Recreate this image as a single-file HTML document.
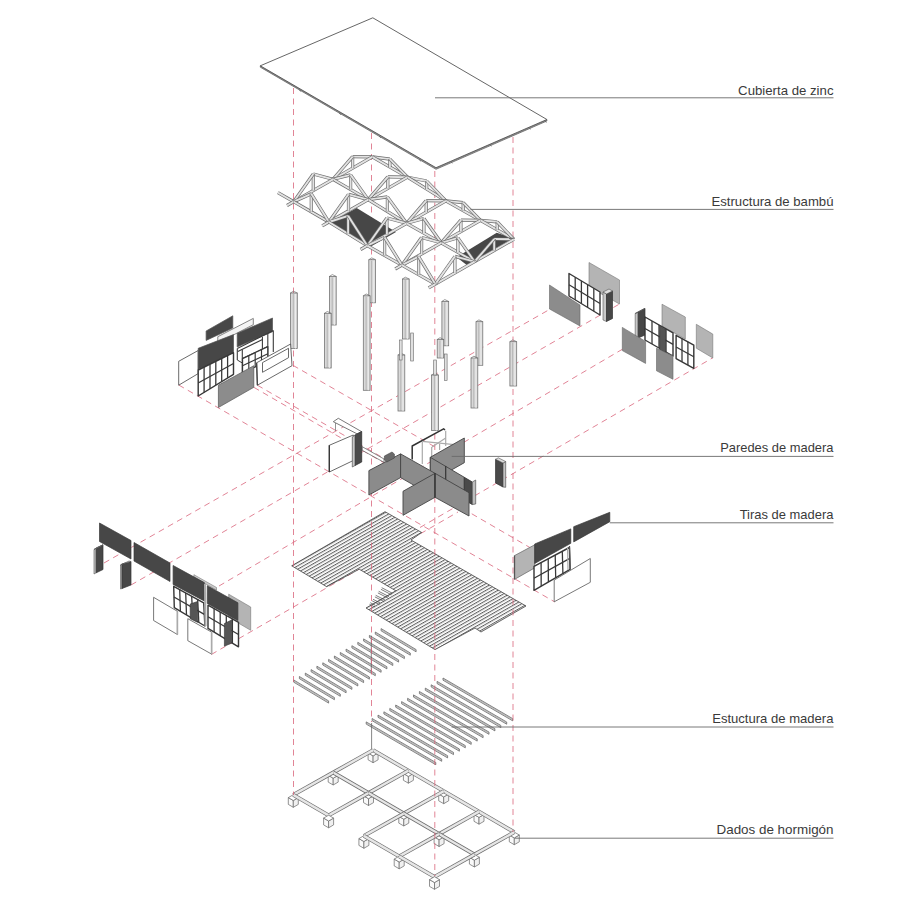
<!DOCTYPE html>
<html><head><meta charset="utf-8"><style>
html,body{margin:0;padding:0;background:#fff;width:900px;height:900px;overflow:hidden}
svg{display:block}
</style></head><body>
<svg width="900" height="900" viewBox="0 0 900 900">
<rect width="900" height="900" fill="#fff"/>
<line x1="104" y1="563" x2="589" y2="287" stroke="#d9657b" stroke-width="0.8" stroke-dasharray="6,4.5"/>
<line x1="131" y1="585" x2="619.5" y2="304" stroke="#d9657b" stroke-width="0.8" stroke-dasharray="6,4.5"/>
<line x1="219" y1="586" x2="662" y2="326" stroke="#d9657b" stroke-width="0.8" stroke-dasharray="6,4.5"/>
<line x1="211.3" y1="654.5" x2="458" y2="512" stroke="#d9657b" stroke-width="0.8" stroke-dasharray="6,4.5"/>
<line x1="420" y1="527.5" x2="712.8" y2="357.8" stroke="#d9657b" stroke-width="0.8" stroke-dasharray="6,4.5"/>
<line x1="292.9" y1="365.3" x2="436" y2="447.5" stroke="#d9657b" stroke-width="0.8" stroke-dasharray="6,4.5"/>
<line x1="257.4" y1="385.2" x2="469" y2="507.5" stroke="#d9657b" stroke-width="0.8" stroke-dasharray="6,4.5"/>
<line x1="253.8" y1="387.3" x2="535" y2="550.5" stroke="#d9657b" stroke-width="0.8" stroke-dasharray="6,4.5"/>
<line x1="178.7" y1="385" x2="554.5" y2="601.8" stroke="#d9657b" stroke-width="0.8" stroke-dasharray="6,4.5"/>
<polygon points="291.7,565.8 385,511.7 421.7,532.5 411,540 526,606 481,632 475,628 435,649.6 366,608 395.8,590.8 359.2,569.2 326.7,586.7" fill="#fff" stroke="none" stroke-width="0" stroke-linejoin="round" />
<clipPath id="fc"><polygon points="291.7,565.8 385,511.7 421.7,532.5 411,540 526,606 481,632 475,628 435,649.6 366,608 395.8,590.8 359.2,569.2 326.7,586.7"/></clipPath>
<g clip-path="url(#fc)" stroke="#4a4a4a" stroke-width="0.9"><line x1="268.5" y1="572.3" x2="459.3" y2="463.5"/><line x1="269.4" y1="572.8" x2="460.2" y2="464" stroke="#b0b0b0" stroke-width="0.6"/><line x1="271.4" y1="574" x2="462.3" y2="465.2"/><line x1="272.3" y1="574.5" x2="463.2" y2="465.7" stroke="#b0b0b0" stroke-width="0.6"/><line x1="274.3" y1="575.7" x2="465.2" y2="466.9"/><line x1="275.2" y1="576.2" x2="466.1" y2="467.4" stroke="#b0b0b0" stroke-width="0.6"/><line x1="277.3" y1="577.4" x2="468.2" y2="468.6"/><line x1="278.2" y1="577.9" x2="469.1" y2="469.1" stroke="#b0b0b0" stroke-width="0.6"/><line x1="280.2" y1="579.1" x2="471.1" y2="470.3"/><line x1="281.1" y1="579.6" x2="472" y2="470.8" stroke="#b0b0b0" stroke-width="0.6"/><line x1="283.2" y1="580.8" x2="474.1" y2="472"/><line x1="284.1" y1="581.3" x2="475" y2="472.5" stroke="#b0b0b0" stroke-width="0.6"/><line x1="286.1" y1="582.5" x2="477" y2="473.7"/><line x1="287" y1="583" x2="477.9" y2="474.2" stroke="#b0b0b0" stroke-width="0.6"/><line x1="289.1" y1="584.2" x2="479.9" y2="475.4"/><line x1="290" y1="584.7" x2="480.8" y2="475.9" stroke="#b0b0b0" stroke-width="0.6"/><line x1="292" y1="585.9" x2="482.9" y2="477.1"/><line x1="292.9" y1="586.4" x2="483.8" y2="477.6" stroke="#b0b0b0" stroke-width="0.6"/><line x1="295" y1="587.6" x2="485.8" y2="478.8"/><line x1="295.9" y1="588.1" x2="486.7" y2="479.3" stroke="#b0b0b0" stroke-width="0.6"/><line x1="297.9" y1="589.3" x2="488.8" y2="480.5"/><line x1="298.8" y1="589.8" x2="489.7" y2="481" stroke="#b0b0b0" stroke-width="0.6"/><line x1="300.9" y1="591" x2="491.7" y2="482.2"/><line x1="301.8" y1="591.5" x2="492.6" y2="482.7" stroke="#b0b0b0" stroke-width="0.6"/><line x1="303.8" y1="592.7" x2="494.7" y2="483.9"/><line x1="304.7" y1="593.2" x2="495.6" y2="484.4" stroke="#b0b0b0" stroke-width="0.6"/><line x1="306.8" y1="594.4" x2="497.6" y2="485.6"/><line x1="307.7" y1="594.9" x2="498.5" y2="486.1" stroke="#b0b0b0" stroke-width="0.6"/><line x1="309.7" y1="596.1" x2="500.6" y2="487.3"/><line x1="310.6" y1="596.6" x2="501.5" y2="487.8" stroke="#b0b0b0" stroke-width="0.6"/><line x1="312.7" y1="597.8" x2="503.5" y2="489"/><line x1="313.6" y1="598.3" x2="504.4" y2="489.5" stroke="#b0b0b0" stroke-width="0.6"/><line x1="315.6" y1="599.5" x2="506.5" y2="490.7"/><line x1="316.5" y1="600" x2="507.4" y2="491.2" stroke="#b0b0b0" stroke-width="0.6"/><line x1="318.6" y1="601.2" x2="509.4" y2="492.4"/><line x1="319.5" y1="601.7" x2="510.3" y2="492.9" stroke="#b0b0b0" stroke-width="0.6"/><line x1="321.5" y1="602.9" x2="512.4" y2="494.1"/><line x1="322.4" y1="603.4" x2="513.3" y2="494.6" stroke="#b0b0b0" stroke-width="0.6"/><line x1="324.5" y1="604.6" x2="515.3" y2="495.8"/><line x1="325.4" y1="605.1" x2="516.2" y2="496.3" stroke="#b0b0b0" stroke-width="0.6"/><line x1="327.4" y1="606.3" x2="518.3" y2="497.5"/><line x1="328.3" y1="606.8" x2="519.2" y2="498" stroke="#b0b0b0" stroke-width="0.6"/><line x1="330.4" y1="608" x2="521.2" y2="499.2"/><line x1="331.3" y1="608.5" x2="522.1" y2="499.7" stroke="#b0b0b0" stroke-width="0.6"/><line x1="333.3" y1="609.7" x2="524.2" y2="500.9"/><line x1="334.2" y1="610.2" x2="525.1" y2="501.4" stroke="#b0b0b0" stroke-width="0.6"/><line x1="336.3" y1="611.4" x2="527.1" y2="502.6"/><line x1="337.2" y1="611.9" x2="528" y2="503.1" stroke="#b0b0b0" stroke-width="0.6"/><line x1="339.2" y1="613.1" x2="530.1" y2="504.3"/><line x1="340.1" y1="613.6" x2="531" y2="504.8" stroke="#b0b0b0" stroke-width="0.6"/><line x1="342.1" y1="614.8" x2="533" y2="506"/><line x1="343" y1="615.3" x2="533.9" y2="506.5" stroke="#b0b0b0" stroke-width="0.6"/><line x1="345.1" y1="616.5" x2="536" y2="507.7"/><line x1="346" y1="617" x2="536.9" y2="508.2" stroke="#b0b0b0" stroke-width="0.6"/><line x1="348" y1="618.2" x2="538.9" y2="509.4"/><line x1="348.9" y1="618.7" x2="539.8" y2="509.9" stroke="#b0b0b0" stroke-width="0.6"/><line x1="351" y1="619.9" x2="541.9" y2="511.1"/><line x1="351.9" y1="620.4" x2="542.8" y2="511.6" stroke="#b0b0b0" stroke-width="0.6"/><line x1="353.9" y1="621.6" x2="544.8" y2="512.8"/><line x1="354.8" y1="622.1" x2="545.7" y2="513.3" stroke="#b0b0b0" stroke-width="0.6"/><line x1="356.9" y1="623.3" x2="547.7" y2="514.5"/><line x1="357.8" y1="623.8" x2="548.6" y2="515" stroke="#b0b0b0" stroke-width="0.6"/><line x1="359.8" y1="625" x2="550.7" y2="516.2"/><line x1="360.7" y1="625.5" x2="551.6" y2="516.7" stroke="#b0b0b0" stroke-width="0.6"/><line x1="362.8" y1="626.7" x2="553.6" y2="517.9"/><line x1="363.7" y1="627.2" x2="554.5" y2="518.4" stroke="#b0b0b0" stroke-width="0.6"/><line x1="365.7" y1="628.4" x2="556.6" y2="519.6"/><line x1="366.6" y1="628.9" x2="557.5" y2="520.1" stroke="#b0b0b0" stroke-width="0.6"/><line x1="368.7" y1="630.1" x2="559.5" y2="521.3"/><line x1="369.6" y1="630.6" x2="560.4" y2="521.8" stroke="#b0b0b0" stroke-width="0.6"/><line x1="371.6" y1="631.8" x2="562.5" y2="523"/><line x1="372.5" y1="632.3" x2="563.4" y2="523.5" stroke="#b0b0b0" stroke-width="0.6"/><line x1="374.6" y1="633.5" x2="565.4" y2="524.7"/><line x1="375.5" y1="634" x2="566.3" y2="525.2" stroke="#b0b0b0" stroke-width="0.6"/><line x1="377.5" y1="635.2" x2="568.4" y2="526.4"/><line x1="378.4" y1="635.7" x2="569.3" y2="526.9" stroke="#b0b0b0" stroke-width="0.6"/><line x1="380.5" y1="636.9" x2="571.3" y2="528.1"/><line x1="381.4" y1="637.4" x2="572.2" y2="528.6" stroke="#b0b0b0" stroke-width="0.6"/><line x1="383.4" y1="638.6" x2="574.3" y2="529.8"/><line x1="384.3" y1="639.1" x2="575.2" y2="530.3" stroke="#b0b0b0" stroke-width="0.6"/><line x1="386.4" y1="640.3" x2="577.2" y2="531.5"/><line x1="387.3" y1="640.8" x2="578.1" y2="532" stroke="#b0b0b0" stroke-width="0.6"/><line x1="389.3" y1="642" x2="580.2" y2="533.2"/><line x1="390.2" y1="642.5" x2="581.1" y2="533.7" stroke="#b0b0b0" stroke-width="0.6"/><line x1="392.3" y1="643.7" x2="583.1" y2="534.9"/><line x1="393.2" y1="644.2" x2="584" y2="535.4" stroke="#b0b0b0" stroke-width="0.6"/><line x1="395.2" y1="645.4" x2="586.1" y2="536.6"/><line x1="396.1" y1="645.9" x2="587" y2="537.1" stroke="#b0b0b0" stroke-width="0.6"/><line x1="398.2" y1="647.1" x2="589" y2="538.3"/><line x1="399.1" y1="647.6" x2="589.9" y2="538.8" stroke="#b0b0b0" stroke-width="0.6"/><line x1="401.1" y1="648.8" x2="592" y2="540"/><line x1="402" y1="649.3" x2="592.9" y2="540.5" stroke="#b0b0b0" stroke-width="0.6"/><line x1="404.1" y1="650.5" x2="594.9" y2="541.7"/><line x1="405" y1="651" x2="595.8" y2="542.2" stroke="#b0b0b0" stroke-width="0.6"/><line x1="407" y1="652.2" x2="597.9" y2="543.4"/><line x1="407.9" y1="652.7" x2="598.8" y2="543.9" stroke="#b0b0b0" stroke-width="0.6"/><line x1="409.9" y1="653.9" x2="600.8" y2="545.1"/><line x1="410.8" y1="654.4" x2="601.7" y2="545.6" stroke="#b0b0b0" stroke-width="0.6"/><line x1="412.9" y1="655.6" x2="603.8" y2="546.8"/><line x1="413.8" y1="656.1" x2="604.7" y2="547.3" stroke="#b0b0b0" stroke-width="0.6"/><line x1="415.8" y1="657.3" x2="606.7" y2="548.5"/><line x1="416.7" y1="657.8" x2="607.6" y2="549" stroke="#b0b0b0" stroke-width="0.6"/><line x1="418.8" y1="659" x2="609.7" y2="550.2"/><line x1="419.7" y1="659.5" x2="610.6" y2="550.7" stroke="#b0b0b0" stroke-width="0.6"/><line x1="421.7" y1="660.7" x2="612.6" y2="551.9"/><line x1="422.6" y1="661.2" x2="613.5" y2="552.4" stroke="#b0b0b0" stroke-width="0.6"/><line x1="424.7" y1="662.4" x2="615.5" y2="553.6"/><line x1="425.6" y1="662.9" x2="616.4" y2="554.1" stroke="#b0b0b0" stroke-width="0.6"/><line x1="427.6" y1="664.1" x2="618.5" y2="555.3"/><line x1="428.5" y1="664.6" x2="619.4" y2="555.8" stroke="#b0b0b0" stroke-width="0.6"/><line x1="430.6" y1="665.8" x2="621.4" y2="557"/><line x1="431.5" y1="666.3" x2="622.3" y2="557.5" stroke="#b0b0b0" stroke-width="0.6"/><line x1="433.5" y1="667.5" x2="624.4" y2="558.7"/><line x1="434.4" y1="668" x2="625.3" y2="559.2" stroke="#b0b0b0" stroke-width="0.6"/><line x1="436.5" y1="669.2" x2="627.3" y2="560.4"/><line x1="437.4" y1="669.7" x2="628.2" y2="560.9" stroke="#b0b0b0" stroke-width="0.6"/><line x1="439.4" y1="670.9" x2="630.3" y2="562.1"/><line x1="440.3" y1="671.4" x2="631.2" y2="562.6" stroke="#b0b0b0" stroke-width="0.6"/><line x1="442.4" y1="672.6" x2="633.2" y2="563.8"/><line x1="443.3" y1="673.1" x2="634.1" y2="564.3" stroke="#b0b0b0" stroke-width="0.6"/><line x1="445.3" y1="674.3" x2="636.2" y2="565.5"/><line x1="446.2" y1="674.8" x2="637.1" y2="566" stroke="#b0b0b0" stroke-width="0.6"/><line x1="448.3" y1="676" x2="639.1" y2="567.2"/><line x1="449.2" y1="676.5" x2="640" y2="567.7" stroke="#b0b0b0" stroke-width="0.6"/><line x1="451.2" y1="677.7" x2="642.1" y2="568.9"/><line x1="452.1" y1="678.2" x2="643" y2="569.4" stroke="#b0b0b0" stroke-width="0.6"/><line x1="454.2" y1="679.4" x2="645" y2="570.6"/><line x1="455.1" y1="679.9" x2="645.9" y2="571.1" stroke="#b0b0b0" stroke-width="0.6"/><line x1="457.1" y1="681.1" x2="648" y2="572.3"/><line x1="458" y1="681.6" x2="648.9" y2="572.8" stroke="#b0b0b0" stroke-width="0.6"/><line x1="460.1" y1="682.8" x2="650.9" y2="574"/><line x1="461" y1="683.3" x2="651.8" y2="574.5" stroke="#b0b0b0" stroke-width="0.6"/><line x1="463" y1="684.5" x2="653.9" y2="575.7"/><line x1="463.9" y1="685" x2="654.8" y2="576.2" stroke="#b0b0b0" stroke-width="0.6"/><line x1="466" y1="686.2" x2="656.8" y2="577.4"/><line x1="466.9" y1="686.7" x2="657.7" y2="577.9" stroke="#b0b0b0" stroke-width="0.6"/><line x1="468.9" y1="687.9" x2="659.8" y2="579.1"/><line x1="469.8" y1="688.4" x2="660.7" y2="579.6" stroke="#b0b0b0" stroke-width="0.6"/><line x1="471.9" y1="689.6" x2="662.7" y2="580.8"/><line x1="472.8" y1="690.1" x2="663.6" y2="581.3" stroke="#b0b0b0" stroke-width="0.6"/><line x1="474.8" y1="691.3" x2="665.7" y2="582.5"/><line x1="475.7" y1="691.8" x2="666.6" y2="583" stroke="#b0b0b0" stroke-width="0.6"/><line x1="477.7" y1="693" x2="668.6" y2="584.2"/><line x1="478.6" y1="693.5" x2="669.5" y2="584.7" stroke="#b0b0b0" stroke-width="0.6"/><line x1="480.7" y1="694.7" x2="671.6" y2="585.9"/><line x1="481.6" y1="695.2" x2="672.5" y2="586.4" stroke="#b0b0b0" stroke-width="0.6"/><line x1="483.6" y1="696.4" x2="674.5" y2="587.6"/><line x1="484.5" y1="696.9" x2="675.4" y2="588.1" stroke="#b0b0b0" stroke-width="0.6"/><line x1="486.6" y1="698.1" x2="677.5" y2="589.3"/><line x1="487.5" y1="698.6" x2="678.4" y2="589.8" stroke="#b0b0b0" stroke-width="0.6"/><line x1="489.5" y1="699.8" x2="680.4" y2="591"/><line x1="490.4" y1="700.3" x2="681.3" y2="591.5" stroke="#b0b0b0" stroke-width="0.6"/><line x1="492.5" y1="701.5" x2="683.3" y2="592.7"/><line x1="493.4" y1="702" x2="684.2" y2="593.2" stroke="#b0b0b0" stroke-width="0.6"/><line x1="495.4" y1="703.2" x2="686.3" y2="594.4"/><line x1="496.3" y1="703.7" x2="687.2" y2="594.9" stroke="#b0b0b0" stroke-width="0.6"/><line x1="498.4" y1="704.9" x2="689.2" y2="596.1"/><line x1="499.3" y1="705.4" x2="690.1" y2="596.6" stroke="#b0b0b0" stroke-width="0.6"/><line x1="501.3" y1="706.6" x2="692.2" y2="597.8"/><line x1="502.2" y1="707.1" x2="693.1" y2="598.3" stroke="#b0b0b0" stroke-width="0.6"/><line x1="504.3" y1="708.3" x2="695.1" y2="599.5"/><line x1="505.2" y1="708.8" x2="696" y2="600" stroke="#b0b0b0" stroke-width="0.6"/><line x1="507.2" y1="710" x2="698.1" y2="601.2"/><line x1="508.1" y1="710.5" x2="699" y2="601.7" stroke="#b0b0b0" stroke-width="0.6"/><line x1="510.2" y1="711.7" x2="701" y2="602.9"/><line x1="511.1" y1="712.2" x2="701.9" y2="603.4" stroke="#b0b0b0" stroke-width="0.6"/><line x1="513.1" y1="713.4" x2="704" y2="604.6"/><line x1="514" y1="713.9" x2="704.9" y2="605.1" stroke="#b0b0b0" stroke-width="0.6"/><line x1="516.1" y1="715.1" x2="706.9" y2="606.3"/><line x1="517" y1="715.6" x2="707.8" y2="606.8" stroke="#b0b0b0" stroke-width="0.6"/><line x1="519" y1="716.8" x2="709.9" y2="608"/><line x1="519.9" y1="717.3" x2="710.8" y2="608.5" stroke="#b0b0b0" stroke-width="0.6"/><line x1="522" y1="718.5" x2="712.8" y2="609.7"/><line x1="522.9" y1="719" x2="713.7" y2="610.2" stroke="#b0b0b0" stroke-width="0.6"/><line x1="524.9" y1="720.2" x2="715.8" y2="611.4"/><line x1="525.8" y1="720.7" x2="716.7" y2="611.9" stroke="#b0b0b0" stroke-width="0.6"/><line x1="527.9" y1="721.9" x2="718.7" y2="613.1"/><line x1="528.8" y1="722.4" x2="719.6" y2="613.6" stroke="#b0b0b0" stroke-width="0.6"/><line x1="530.8" y1="723.6" x2="721.7" y2="614.8"/><line x1="531.7" y1="724.1" x2="722.6" y2="615.3" stroke="#b0b0b0" stroke-width="0.6"/><line x1="533.8" y1="725.3" x2="724.6" y2="616.5"/><line x1="534.7" y1="725.8" x2="725.5" y2="617" stroke="#b0b0b0" stroke-width="0.6"/><line x1="536.7" y1="727" x2="727.6" y2="618.2"/><line x1="537.6" y1="727.5" x2="728.5" y2="618.7" stroke="#b0b0b0" stroke-width="0.6"/></g>
<polygon points="291.7,565.8 385,511.7 421.7,532.5 411,540 526,606 481,632 475,628 435,649.6 366,608 395.8,590.8 359.2,569.2 326.7,586.7" fill="none" stroke="#444" stroke-width="0.8" stroke-linejoin="round" />
<line x1="381.7" y1="587.7" x2="392.3" y2="593.2" stroke="#444" stroke-width="0.7" />
<line x1="380.9" y1="589.3" x2="391.5" y2="594.8" stroke="#444" stroke-width="0.7" />
<line x1="378.7" y1="591.3" x2="389" y2="596.6" stroke="#444" stroke-width="0.7" />
<line x1="377.9" y1="592.9" x2="388.2" y2="598.2" stroke="#444" stroke-width="0.7" />
<line x1="375.7" y1="595.3" x2="385" y2="600" stroke="#444" stroke-width="0.7" />
<line x1="374.9" y1="596.9" x2="384.2" y2="601.6" stroke="#444" stroke-width="0.7" />
<line x1="373" y1="599.3" x2="380.3" y2="603" stroke="#444" stroke-width="0.7" />
<line x1="372.2" y1="600.9" x2="379.5" y2="604.6" stroke="#444" stroke-width="0.7" />
<line x1="370.3" y1="602.7" x2="375" y2="605.2" stroke="#444" stroke-width="0.7" />
<line x1="369.5" y1="604.3" x2="374.2" y2="606.8" stroke="#444" stroke-width="0.7" />
<polygon points="381.1,628.6 416.1,649.6 416.1,651.8 381.1,630.8" fill="#e6e6e6" stroke="#555" stroke-width="0.7"/>
<line x1="381.1" y1="629.6" x2="416.1" y2="650.6" stroke="#888" stroke-width="0.5" />
<polygon points="375.3,632 410.3,653 410.3,655.2 375.3,634.2" fill="#e6e6e6" stroke="#555" stroke-width="0.7"/>
<line x1="375.3" y1="633" x2="410.3" y2="654" stroke="#888" stroke-width="0.5" />
<polygon points="369.4,635.4 404.4,656.4 404.4,658.6 369.4,637.6" fill="#e6e6e6" stroke="#555" stroke-width="0.7"/>
<line x1="369.4" y1="636.4" x2="404.4" y2="657.4" stroke="#888" stroke-width="0.5" />
<polygon points="363.6,638.9 398.6,659.9 398.6,662.1 363.6,641.1" fill="#e6e6e6" stroke="#555" stroke-width="0.7"/>
<line x1="363.6" y1="639.9" x2="398.6" y2="660.9" stroke="#888" stroke-width="0.5" />
<polygon points="357.8,642.3 392.8,663.3 392.8,665.5 357.8,644.5" fill="#e6e6e6" stroke="#555" stroke-width="0.7"/>
<line x1="357.8" y1="643.3" x2="392.8" y2="664.3" stroke="#888" stroke-width="0.5" />
<polygon points="351.9,645.7 386.9,666.7 386.9,668.9 351.9,647.9" fill="#e6e6e6" stroke="#555" stroke-width="0.7"/>
<line x1="351.9" y1="646.7" x2="386.9" y2="667.7" stroke="#888" stroke-width="0.5" />
<polygon points="346.1,649.1 381.1,670.1 381.1,672.3 346.1,651.3" fill="#e6e6e6" stroke="#555" stroke-width="0.7"/>
<line x1="346.1" y1="650.1" x2="381.1" y2="671.1" stroke="#888" stroke-width="0.5" />
<polygon points="340.3,652.5 375.3,673.5 375.3,675.7 340.3,654.7" fill="#e6e6e6" stroke="#555" stroke-width="0.7"/>
<line x1="340.3" y1="653.5" x2="375.3" y2="674.5" stroke="#888" stroke-width="0.5" />
<polygon points="334.4,656 369.4,677 369.4,679.2 334.4,658.2" fill="#e6e6e6" stroke="#555" stroke-width="0.7"/>
<line x1="334.4" y1="657" x2="369.4" y2="678" stroke="#888" stroke-width="0.5" />
<polygon points="328.6,659.4 363.6,680.4 363.6,682.6 328.6,661.6" fill="#e6e6e6" stroke="#555" stroke-width="0.7"/>
<line x1="328.6" y1="660.4" x2="363.6" y2="681.4" stroke="#888" stroke-width="0.5" />
<polygon points="322.8,662.8 357.8,683.8 357.8,686 322.8,665" fill="#e6e6e6" stroke="#555" stroke-width="0.7"/>
<line x1="322.8" y1="663.8" x2="357.8" y2="684.8" stroke="#888" stroke-width="0.5" />
<polygon points="316.9,666.2 351.9,687.2 351.9,689.4 316.9,668.4" fill="#e6e6e6" stroke="#555" stroke-width="0.7"/>
<line x1="316.9" y1="667.2" x2="351.9" y2="688.2" stroke="#888" stroke-width="0.5" />
<polygon points="311.1,669.6 346.1,690.6 346.1,692.8 311.1,671.8" fill="#e6e6e6" stroke="#555" stroke-width="0.7"/>
<line x1="311.1" y1="670.6" x2="346.1" y2="691.6" stroke="#888" stroke-width="0.5" />
<polygon points="305.3,673.1 340.3,694.1 340.3,696.3 305.3,675.3" fill="#e6e6e6" stroke="#555" stroke-width="0.7"/>
<line x1="305.3" y1="674" x2="340.3" y2="695" stroke="#888" stroke-width="0.5" />
<polygon points="299.4,676.5 334.4,697.5 334.4,699.7 299.4,678.7" fill="#e6e6e6" stroke="#555" stroke-width="0.7"/>
<line x1="299.4" y1="677.5" x2="334.4" y2="698.5" stroke="#888" stroke-width="0.5" />
<polygon points="293.6,679.9 328.6,700.9 328.6,703.1 293.6,682.1" fill="#e6e6e6" stroke="#555" stroke-width="0.7"/>
<line x1="293.6" y1="680.9" x2="328.6" y2="701.9" stroke="#888" stroke-width="0.5" />
<line x1="371.3" y1="635.6" x2="371.3" y2="672.9" stroke="#555" stroke-width="0.7" />
<polygon points="443,678 512.6,718.6 512.6,720.8 443,680.2" fill="#e6e6e6" stroke="#555" stroke-width="0.7"/>
<line x1="443" y1="679" x2="512.6" y2="719.6" stroke="#888" stroke-width="0.5" />
<polygon points="437.1,681.4 506.7,722 506.7,724.2 437.1,683.6" fill="#e6e6e6" stroke="#555" stroke-width="0.7"/>
<line x1="437.1" y1="682.4" x2="506.7" y2="723" stroke="#888" stroke-width="0.5" />
<polygon points="431.2,684.8 500.8,725.4 500.8,727.6 431.2,687" fill="#e6e6e6" stroke="#555" stroke-width="0.7"/>
<line x1="431.2" y1="685.7" x2="500.8" y2="726.3" stroke="#888" stroke-width="0.5" />
<polygon points="425.3,688.1 494.9,728.7 494.9,730.9 425.3,690.3" fill="#e6e6e6" stroke="#555" stroke-width="0.7"/>
<line x1="425.3" y1="689.1" x2="494.9" y2="729.7" stroke="#888" stroke-width="0.5" />
<polygon points="419.4,691.5 489,732.1 489,734.3 419.4,693.7" fill="#e6e6e6" stroke="#555" stroke-width="0.7"/>
<line x1="419.4" y1="692.5" x2="489" y2="733.1" stroke="#888" stroke-width="0.5" />
<polygon points="413.5,694.9 483.1,735.5 483.1,737.7 413.5,697.1" fill="#e6e6e6" stroke="#555" stroke-width="0.7"/>
<line x1="413.5" y1="695.9" x2="483.1" y2="736.5" stroke="#888" stroke-width="0.5" />
<polygon points="407.6,698.3 477.2,738.9 477.2,741.1 407.6,700.5" fill="#e6e6e6" stroke="#555" stroke-width="0.7"/>
<line x1="407.6" y1="699.3" x2="477.2" y2="739.9" stroke="#888" stroke-width="0.5" />
<polygon points="401.6,701.6 471.2,742.2 471.2,744.4 401.6,703.8" fill="#e6e6e6" stroke="#555" stroke-width="0.7"/>
<line x1="401.6" y1="702.6" x2="471.2" y2="743.2" stroke="#888" stroke-width="0.5" />
<polygon points="395.7,705 465.3,745.6 465.3,747.8 395.7,707.2" fill="#e6e6e6" stroke="#555" stroke-width="0.7"/>
<line x1="395.7" y1="706" x2="465.3" y2="746.6" stroke="#888" stroke-width="0.5" />
<polygon points="389.8,708.4 459.4,749 459.4,751.2 389.8,710.6" fill="#e6e6e6" stroke="#555" stroke-width="0.7"/>
<line x1="389.8" y1="709.4" x2="459.4" y2="750" stroke="#888" stroke-width="0.5" />
<polygon points="383.9,711.8 453.5,752.4 453.5,754.6 383.9,714" fill="#e6e6e6" stroke="#555" stroke-width="0.7"/>
<line x1="383.9" y1="712.8" x2="453.5" y2="753.4" stroke="#888" stroke-width="0.5" />
<polygon points="378,715.1 447.6,755.7 447.6,757.9 378,717.3" fill="#e6e6e6" stroke="#555" stroke-width="0.7"/>
<line x1="378" y1="716.1" x2="447.6" y2="756.7" stroke="#888" stroke-width="0.5" />
<polygon points="372.1,718.5 441.7,759.1 441.7,761.3 372.1,720.7" fill="#e6e6e6" stroke="#555" stroke-width="0.7"/>
<line x1="372.1" y1="719.5" x2="441.7" y2="760.1" stroke="#888" stroke-width="0.5" />
<polygon points="366.2,721.9 435.8,762.5 435.8,764.7 366.2,724.1" fill="#e6e6e6" stroke="#555" stroke-width="0.7"/>
<line x1="366.2" y1="722.9" x2="435.8" y2="763.5" stroke="#888" stroke-width="0.5" />
<line x1="371.6" y1="723" x2="371.6" y2="750" stroke="#555" stroke-width="0.7" />
<polygon points="368.1,753 373.1,755.9 373.1,762.7 368.1,759.8" fill="#fafafa" stroke="#666" stroke-width="0.7" stroke-linejoin="round" />
<polygon points="373.1,755.9 378.1,753 378.1,759.8 373.1,762.7" fill="#f0f0f0" stroke="#666" stroke-width="0.7" stroke-linejoin="round" />
<polygon points="368.1,753 373.1,750.1 378.1,753 373.1,755.9" fill="#fff" stroke="#666" stroke-width="0.7" stroke-linejoin="round" />
<line x1="373.1" y1="750.2" x2="408.4" y2="770.7" stroke="#6c6c6c" stroke-width="3.8" stroke-linecap="butt"/>
<line x1="373.1" y1="750.2" x2="408.4" y2="770.7" stroke="#e6e6e6" stroke-width="2.5" stroke-linecap="butt"/>
<line x1="333.2" y1="772.5" x2="373.1" y2="750.2" stroke="#6c6c6c" stroke-width="3.8" stroke-linecap="butt"/>
<line x1="333.2" y1="772.5" x2="373.1" y2="750.2" stroke="#e6e6e6" stroke-width="2.5" stroke-linecap="butt"/>
<polygon points="403.4,773.5 408.4,776.4 408.4,783.2 403.4,780.3" fill="#fafafa" stroke="#666" stroke-width="0.7" stroke-linejoin="round" />
<polygon points="408.4,776.4 413.4,773.5 413.4,780.3 408.4,783.2" fill="#f0f0f0" stroke="#666" stroke-width="0.7" stroke-linejoin="round" />
<polygon points="403.4,773.5 408.4,770.6 413.4,773.5 408.4,776.4" fill="#fff" stroke="#666" stroke-width="0.7" stroke-linejoin="round" />
<polygon points="328.2,775.3 333.2,778.2 333.2,785 328.2,782.1" fill="#fafafa" stroke="#666" stroke-width="0.7" stroke-linejoin="round" />
<polygon points="333.2,778.2 338.2,775.3 338.2,782.1 333.2,785" fill="#f0f0f0" stroke="#666" stroke-width="0.7" stroke-linejoin="round" />
<polygon points="328.2,775.3 333.2,772.4 338.2,775.3 333.2,778.2" fill="#fff" stroke="#666" stroke-width="0.7" stroke-linejoin="round" />
<line x1="408.4" y1="770.7" x2="443.7" y2="791.2" stroke="#6c6c6c" stroke-width="3.8" stroke-linecap="butt"/>
<line x1="408.4" y1="770.7" x2="443.7" y2="791.2" stroke="#e6e6e6" stroke-width="2.5" stroke-linecap="butt"/>
<line x1="368.5" y1="793" x2="408.4" y2="770.7" stroke="#6c6c6c" stroke-width="3.8" stroke-linecap="butt"/>
<line x1="368.5" y1="793" x2="408.4" y2="770.7" stroke="#e6e6e6" stroke-width="2.5" stroke-linecap="butt"/>
<line x1="333.2" y1="772.5" x2="368.5" y2="793" stroke="#6c6c6c" stroke-width="3.8" stroke-linecap="butt"/>
<line x1="333.2" y1="772.5" x2="368.5" y2="793" stroke="#e6e6e6" stroke-width="2.5" stroke-linecap="butt"/>
<line x1="293.3" y1="794.8" x2="333.2" y2="772.5" stroke="#6c6c6c" stroke-width="3.8" stroke-linecap="butt"/>
<line x1="293.3" y1="794.8" x2="333.2" y2="772.5" stroke="#e6e6e6" stroke-width="2.5" stroke-linecap="butt"/>
<polygon points="438.7,794 443.7,796.9 443.7,803.7 438.7,800.8" fill="#fafafa" stroke="#666" stroke-width="0.7" stroke-linejoin="round" />
<polygon points="443.7,796.9 448.7,794 448.7,800.8 443.7,803.7" fill="#f0f0f0" stroke="#666" stroke-width="0.7" stroke-linejoin="round" />
<polygon points="438.7,794 443.7,791.1 448.7,794 443.7,796.9" fill="#fff" stroke="#666" stroke-width="0.7" stroke-linejoin="round" />
<polygon points="363.5,795.8 368.5,798.7 368.5,805.5 363.5,802.6" fill="#fafafa" stroke="#666" stroke-width="0.7" stroke-linejoin="round" />
<polygon points="368.5,798.7 373.5,795.8 373.5,802.6 368.5,805.5" fill="#f0f0f0" stroke="#666" stroke-width="0.7" stroke-linejoin="round" />
<polygon points="363.5,795.8 368.5,792.9 373.5,795.8 368.5,798.7" fill="#fff" stroke="#666" stroke-width="0.7" stroke-linejoin="round" />
<polygon points="288.3,797.6 293.3,800.5 293.3,807.3 288.3,804.4" fill="#fafafa" stroke="#666" stroke-width="0.7" stroke-linejoin="round" />
<polygon points="293.3,800.5 298.3,797.6 298.3,804.4 293.3,807.3" fill="#f0f0f0" stroke="#666" stroke-width="0.7" stroke-linejoin="round" />
<polygon points="288.3,797.6 293.3,794.7 298.3,797.6 293.3,800.5" fill="#fff" stroke="#666" stroke-width="0.7" stroke-linejoin="round" />
<line x1="443.7" y1="791.2" x2="479" y2="811.7" stroke="#6c6c6c" stroke-width="3.8" stroke-linecap="butt"/>
<line x1="443.7" y1="791.2" x2="479" y2="811.7" stroke="#e6e6e6" stroke-width="2.5" stroke-linecap="butt"/>
<line x1="403.8" y1="813.5" x2="443.7" y2="791.2" stroke="#6c6c6c" stroke-width="3.8" stroke-linecap="butt"/>
<line x1="403.8" y1="813.5" x2="443.7" y2="791.2" stroke="#e6e6e6" stroke-width="2.5" stroke-linecap="butt"/>
<line x1="368.5" y1="793" x2="403.8" y2="813.5" stroke="#6c6c6c" stroke-width="3.8" stroke-linecap="butt"/>
<line x1="368.5" y1="793" x2="403.8" y2="813.5" stroke="#e6e6e6" stroke-width="2.5" stroke-linecap="butt"/>
<line x1="328.6" y1="815.3" x2="368.5" y2="793" stroke="#6c6c6c" stroke-width="3.8" stroke-linecap="butt"/>
<line x1="328.6" y1="815.3" x2="368.5" y2="793" stroke="#e6e6e6" stroke-width="2.5" stroke-linecap="butt"/>
<line x1="293.3" y1="794.8" x2="328.6" y2="815.3" stroke="#6c6c6c" stroke-width="3.8" stroke-linecap="butt"/>
<line x1="293.3" y1="794.8" x2="328.6" y2="815.3" stroke="#e6e6e6" stroke-width="2.5" stroke-linecap="butt"/>
<polygon points="474,814.5 479,817.4 479,824.2 474,821.3" fill="#fafafa" stroke="#666" stroke-width="0.7" stroke-linejoin="round" />
<polygon points="479,817.4 484,814.5 484,821.3 479,824.2" fill="#f0f0f0" stroke="#666" stroke-width="0.7" stroke-linejoin="round" />
<polygon points="474,814.5 479,811.6 484,814.5 479,817.4" fill="#fff" stroke="#666" stroke-width="0.7" stroke-linejoin="round" />
<polygon points="398.8,816.3 403.8,819.2 403.8,826 398.8,823.1" fill="#fafafa" stroke="#666" stroke-width="0.7" stroke-linejoin="round" />
<polygon points="403.8,819.2 408.8,816.3 408.8,823.1 403.8,826" fill="#f0f0f0" stroke="#666" stroke-width="0.7" stroke-linejoin="round" />
<polygon points="398.8,816.3 403.8,813.4 408.8,816.3 403.8,819.2" fill="#fff" stroke="#666" stroke-width="0.7" stroke-linejoin="round" />
<polygon points="323.6,818.1 328.6,821 328.6,827.8 323.6,824.9" fill="#fafafa" stroke="#666" stroke-width="0.7" stroke-linejoin="round" />
<polygon points="328.6,821 333.6,818.1 333.6,824.9 328.6,827.8" fill="#f0f0f0" stroke="#666" stroke-width="0.7" stroke-linejoin="round" />
<polygon points="323.6,818.1 328.6,815.2 333.6,818.1 328.6,821" fill="#fff" stroke="#666" stroke-width="0.7" stroke-linejoin="round" />
<line x1="479" y1="811.7" x2="514.3" y2="832.2" stroke="#6c6c6c" stroke-width="3.8" stroke-linecap="butt"/>
<line x1="479" y1="811.7" x2="514.3" y2="832.2" stroke="#e6e6e6" stroke-width="2.5" stroke-linecap="butt"/>
<line x1="439.1" y1="834" x2="479" y2="811.7" stroke="#6c6c6c" stroke-width="3.8" stroke-linecap="butt"/>
<line x1="439.1" y1="834" x2="479" y2="811.7" stroke="#e6e6e6" stroke-width="2.5" stroke-linecap="butt"/>
<line x1="403.8" y1="813.5" x2="439.1" y2="834" stroke="#6c6c6c" stroke-width="3.8" stroke-linecap="butt"/>
<line x1="403.8" y1="813.5" x2="439.1" y2="834" stroke="#e6e6e6" stroke-width="2.5" stroke-linecap="butt"/>
<line x1="363.9" y1="835.8" x2="403.8" y2="813.5" stroke="#6c6c6c" stroke-width="3.8" stroke-linecap="butt"/>
<line x1="363.9" y1="835.8" x2="403.8" y2="813.5" stroke="#e6e6e6" stroke-width="2.5" stroke-linecap="butt"/>
<polygon points="509.3,835 514.3,837.9 514.3,844.7 509.3,841.8" fill="#fafafa" stroke="#666" stroke-width="0.7" stroke-linejoin="round" />
<polygon points="514.3,837.9 519.3,835 519.3,841.8 514.3,844.7" fill="#f0f0f0" stroke="#666" stroke-width="0.7" stroke-linejoin="round" />
<polygon points="509.3,835 514.3,832.1 519.3,835 514.3,837.9" fill="#fff" stroke="#666" stroke-width="0.7" stroke-linejoin="round" />
<polygon points="434.1,836.8 439.1,839.7 439.1,846.5 434.1,843.6" fill="#fafafa" stroke="#666" stroke-width="0.7" stroke-linejoin="round" />
<polygon points="439.1,839.7 444.1,836.8 444.1,843.6 439.1,846.5" fill="#f0f0f0" stroke="#666" stroke-width="0.7" stroke-linejoin="round" />
<polygon points="434.1,836.8 439.1,833.9 444.1,836.8 439.1,839.7" fill="#fff" stroke="#666" stroke-width="0.7" stroke-linejoin="round" />
<polygon points="358.9,838.6 363.9,841.5 363.9,848.3 358.9,845.4" fill="#fafafa" stroke="#666" stroke-width="0.7" stroke-linejoin="round" />
<polygon points="363.9,841.5 368.9,838.6 368.9,845.4 363.9,848.3" fill="#f0f0f0" stroke="#666" stroke-width="0.7" stroke-linejoin="round" />
<polygon points="358.9,838.6 363.9,835.7 368.9,838.6 363.9,841.5" fill="#fff" stroke="#666" stroke-width="0.7" stroke-linejoin="round" />
<line x1="474.4" y1="854.5" x2="514.3" y2="832.2" stroke="#6c6c6c" stroke-width="3.8" stroke-linecap="butt"/>
<line x1="474.4" y1="854.5" x2="514.3" y2="832.2" stroke="#e6e6e6" stroke-width="2.5" stroke-linecap="butt"/>
<line x1="439.1" y1="834" x2="474.4" y2="854.5" stroke="#6c6c6c" stroke-width="3.8" stroke-linecap="butt"/>
<line x1="439.1" y1="834" x2="474.4" y2="854.5" stroke="#e6e6e6" stroke-width="2.5" stroke-linecap="butt"/>
<line x1="399.2" y1="856.3" x2="439.1" y2="834" stroke="#6c6c6c" stroke-width="3.8" stroke-linecap="butt"/>
<line x1="399.2" y1="856.3" x2="439.1" y2="834" stroke="#e6e6e6" stroke-width="2.5" stroke-linecap="butt"/>
<line x1="363.9" y1="835.8" x2="399.2" y2="856.3" stroke="#6c6c6c" stroke-width="3.8" stroke-linecap="butt"/>
<line x1="363.9" y1="835.8" x2="399.2" y2="856.3" stroke="#e6e6e6" stroke-width="2.5" stroke-linecap="butt"/>
<polygon points="469.4,857.3 474.4,860.2 474.4,867 469.4,864.1" fill="#fafafa" stroke="#666" stroke-width="0.7" stroke-linejoin="round" />
<polygon points="474.4,860.2 479.4,857.3 479.4,864.1 474.4,867" fill="#f0f0f0" stroke="#666" stroke-width="0.7" stroke-linejoin="round" />
<polygon points="469.4,857.3 474.4,854.4 479.4,857.3 474.4,860.2" fill="#fff" stroke="#666" stroke-width="0.7" stroke-linejoin="round" />
<polygon points="394.2,859.1 399.2,862 399.2,868.8 394.2,865.9" fill="#fafafa" stroke="#666" stroke-width="0.7" stroke-linejoin="round" />
<polygon points="399.2,862 404.2,859.1 404.2,865.9 399.2,868.8" fill="#f0f0f0" stroke="#666" stroke-width="0.7" stroke-linejoin="round" />
<polygon points="394.2,859.1 399.2,856.2 404.2,859.1 399.2,862" fill="#fff" stroke="#666" stroke-width="0.7" stroke-linejoin="round" />
<line x1="434.5" y1="876.8" x2="474.4" y2="854.5" stroke="#6c6c6c" stroke-width="3.8" stroke-linecap="butt"/>
<line x1="434.5" y1="876.8" x2="474.4" y2="854.5" stroke="#e6e6e6" stroke-width="2.5" stroke-linecap="butt"/>
<line x1="399.2" y1="856.3" x2="434.5" y2="876.8" stroke="#6c6c6c" stroke-width="3.8" stroke-linecap="butt"/>
<line x1="399.2" y1="856.3" x2="434.5" y2="876.8" stroke="#e6e6e6" stroke-width="2.5" stroke-linecap="butt"/>
<polygon points="429.5,879.6 434.5,882.5 434.5,889.3 429.5,886.4" fill="#fafafa" stroke="#666" stroke-width="0.7" stroke-linejoin="round" />
<polygon points="434.5,882.5 439.5,879.6 439.5,886.4 434.5,889.3" fill="#f0f0f0" stroke="#666" stroke-width="0.7" stroke-linejoin="round" />
<polygon points="429.5,879.6 434.5,876.7 439.5,879.6 434.5,882.5" fill="#fff" stroke="#666" stroke-width="0.7" stroke-linejoin="round" />
<line x1="293.5" y1="88" x2="293.5" y2="795" stroke="#d9657b" stroke-width="0.8" stroke-dasharray="6,4.5"/>
<line x1="371.5" y1="133" x2="371.5" y2="722" stroke="#d9657b" stroke-width="0.8" stroke-dasharray="6,4.5"/>
<line x1="434.8" y1="171" x2="434.8" y2="876" stroke="#d9657b" stroke-width="0.8" stroke-dasharray="6,4.5"/>
<line x1="513" y1="137" x2="513" y2="832" stroke="#d9657b" stroke-width="0.8" stroke-dasharray="6,4.5"/>
<polygon points="260.3,65.8 436,167.7 546.9,119.5 546.9,121 436,169.3 260.3,67.2" fill="#999" stroke="#5a5a5a" stroke-width="0.7" stroke-linejoin="round" />
<line x1="450.8" y1="161.5" x2="452.4" y2="163" stroke="#666" stroke-width="1.0" />
<line x1="489.9" y1="144.5" x2="491.5" y2="146" stroke="#666" stroke-width="1.0" />
<line x1="529" y1="127.6" x2="530.6" y2="129.1" stroke="#666" stroke-width="1.0" />
<line x1="544.8" y1="120.9" x2="546.4" y2="122.4" stroke="#666" stroke-width="1.0" />
<line x1="299.2" y1="89.8" x2="300.8" y2="91.3" stroke="#666" stroke-width="1.0" />
<line x1="339.2" y1="113.1" x2="340.8" y2="114.6" stroke="#666" stroke-width="1.0" />
<line x1="379.2" y1="136.3" x2="380.8" y2="137.8" stroke="#666" stroke-width="1.0" />
<line x1="419.2" y1="159.6" x2="420.8" y2="161.1" stroke="#666" stroke-width="1.0" />
<polygon points="260.3,65.8 372.8,17.8 546.9,119.5 436,167.7" fill="#fff" stroke="#555" stroke-width="0.9" stroke-linejoin="round" />
<polygon points="330.7,222.3 356.7,207.9 396,232 370,247" fill="#474747" stroke="none" stroke-width="0" stroke-linejoin="round" />
<polygon points="456.7,257.2 496.7,232.8 512.8,238.3 466.7,265" fill="#474747" stroke="none" stroke-width="0" stroke-linejoin="round" />
<line x1="372.3" y1="156.9" x2="389.9" y2="159.1" stroke="#6a6a6a" stroke-width="3.2" stroke-linecap="butt"/>
<line x1="372.3" y1="156.9" x2="389.9" y2="159.1" stroke="#e2e2e2" stroke-width="1.9000000000000001" stroke-linecap="butt"/>
<line x1="352.6" y1="156.6" x2="372.3" y2="156.9" stroke="#6a6a6a" stroke-width="3.2" stroke-linecap="butt"/>
<line x1="352.6" y1="156.6" x2="372.3" y2="156.9" stroke="#e2e2e2" stroke-width="1.9000000000000001" stroke-linecap="butt"/>
<line x1="372.3" y1="156.9" x2="407.5" y2="177.2" stroke="#6a6a6a" stroke-width="3.2" stroke-linecap="butt"/>
<line x1="372.3" y1="156.9" x2="407.5" y2="177.2" stroke="#e2e2e2" stroke-width="1.9000000000000001" stroke-linecap="butt"/>
<line x1="389.9" y1="167.1" x2="389.9" y2="159.1" stroke="#6a6a6a" stroke-width="3.2" stroke-linecap="butt"/>
<line x1="389.9" y1="167.1" x2="389.9" y2="159.1" stroke="#e2e2e2" stroke-width="1.9000000000000001" stroke-linecap="butt"/>
<line x1="333" y1="179.3" x2="372.3" y2="156.9" stroke="#6a6a6a" stroke-width="3.2" stroke-linecap="butt"/>
<line x1="333" y1="179.3" x2="372.3" y2="156.9" stroke="#e2e2e2" stroke-width="1.9000000000000001" stroke-linecap="butt"/>
<line x1="352.6" y1="168.1" x2="352.6" y2="156.6" stroke="#6a6a6a" stroke-width="3.2" stroke-linecap="butt"/>
<line x1="352.6" y1="168.1" x2="352.6" y2="156.6" stroke="#e2e2e2" stroke-width="1.9000000000000001" stroke-linecap="butt"/>
<line x1="389.9" y1="159.1" x2="407.5" y2="177.2" stroke="#6a6a6a" stroke-width="3.2" stroke-linecap="butt"/>
<line x1="389.9" y1="159.1" x2="407.5" y2="177.2" stroke="#e2e2e2" stroke-width="1.9000000000000001" stroke-linecap="butt"/>
<line x1="333" y1="179.3" x2="352.6" y2="156.6" stroke="#6a6a6a" stroke-width="3.2" stroke-linecap="butt"/>
<line x1="333" y1="179.3" x2="352.6" y2="156.6" stroke="#e2e2e2" stroke-width="1.9000000000000001" stroke-linecap="butt"/>
<line x1="407.5" y1="177.2" x2="426.7" y2="181" stroke="#6a6a6a" stroke-width="3.2" stroke-linecap="butt"/>
<line x1="407.5" y1="177.2" x2="426.7" y2="181" stroke="#e2e2e2" stroke-width="1.9000000000000001" stroke-linecap="butt"/>
<line x1="387.8" y1="176.9" x2="407.5" y2="177.2" stroke="#6a6a6a" stroke-width="3.2" stroke-linecap="butt"/>
<line x1="387.8" y1="176.9" x2="407.5" y2="177.2" stroke="#e2e2e2" stroke-width="1.9000000000000001" stroke-linecap="butt"/>
<line x1="333" y1="179.3" x2="350.6" y2="174.9" stroke="#6a6a6a" stroke-width="3.2" stroke-linecap="butt"/>
<line x1="333" y1="179.3" x2="350.6" y2="174.9" stroke="#e2e2e2" stroke-width="1.9000000000000001" stroke-linecap="butt"/>
<line x1="313.3" y1="174" x2="333" y2="179.3" stroke="#6a6a6a" stroke-width="3.2" stroke-linecap="butt"/>
<line x1="313.3" y1="174" x2="333" y2="179.3" stroke="#e2e2e2" stroke-width="1.9000000000000001" stroke-linecap="butt"/>
<line x1="407.5" y1="177.2" x2="445.9" y2="200.9" stroke="#6a6a6a" stroke-width="3.2" stroke-linecap="butt"/>
<line x1="407.5" y1="177.2" x2="445.9" y2="200.9" stroke="#e2e2e2" stroke-width="1.9000000000000001" stroke-linecap="butt"/>
<line x1="426.7" y1="189" x2="426.7" y2="181" stroke="#6a6a6a" stroke-width="3.2" stroke-linecap="butt"/>
<line x1="426.7" y1="189" x2="426.7" y2="181" stroke="#e2e2e2" stroke-width="1.9000000000000001" stroke-linecap="butt"/>
<line x1="368.2" y1="199.6" x2="407.5" y2="177.2" stroke="#6a6a6a" stroke-width="3.2" stroke-linecap="butt"/>
<line x1="368.2" y1="199.6" x2="407.5" y2="177.2" stroke="#e2e2e2" stroke-width="1.9000000000000001" stroke-linecap="butt"/>
<line x1="387.8" y1="188.4" x2="387.8" y2="176.9" stroke="#6a6a6a" stroke-width="3.2" stroke-linecap="butt"/>
<line x1="387.8" y1="188.4" x2="387.8" y2="176.9" stroke="#e2e2e2" stroke-width="1.9000000000000001" stroke-linecap="butt"/>
<line x1="333" y1="179.3" x2="368.2" y2="199.6" stroke="#6a6a6a" stroke-width="3.2" stroke-linecap="butt"/>
<line x1="333" y1="179.3" x2="368.2" y2="199.6" stroke="#e2e2e2" stroke-width="1.9000000000000001" stroke-linecap="butt"/>
<line x1="350.6" y1="189.4" x2="350.6" y2="174.9" stroke="#6a6a6a" stroke-width="3.2" stroke-linecap="butt"/>
<line x1="350.6" y1="189.4" x2="350.6" y2="174.9" stroke="#e2e2e2" stroke-width="1.9000000000000001" stroke-linecap="butt"/>
<line x1="293.7" y1="201.7" x2="333" y2="179.3" stroke="#6a6a6a" stroke-width="3.2" stroke-linecap="butt"/>
<line x1="293.7" y1="201.7" x2="333" y2="179.3" stroke="#e2e2e2" stroke-width="1.9000000000000001" stroke-linecap="butt"/>
<line x1="313.3" y1="190.5" x2="313.3" y2="174" stroke="#6a6a6a" stroke-width="3.2" stroke-linecap="butt"/>
<line x1="313.3" y1="190.5" x2="313.3" y2="174" stroke="#e2e2e2" stroke-width="1.9000000000000001" stroke-linecap="butt"/>
<line x1="426.7" y1="181" x2="445.9" y2="200.9" stroke="#6a6a6a" stroke-width="3.2" stroke-linecap="butt"/>
<line x1="426.7" y1="181" x2="445.9" y2="200.9" stroke="#e2e2e2" stroke-width="1.9000000000000001" stroke-linecap="butt"/>
<line x1="368.2" y1="199.6" x2="387.8" y2="176.9" stroke="#6a6a6a" stroke-width="3.2" stroke-linecap="butt"/>
<line x1="368.2" y1="199.6" x2="387.8" y2="176.9" stroke="#e2e2e2" stroke-width="1.9000000000000001" stroke-linecap="butt"/>
<line x1="350.6" y1="174.9" x2="368.2" y2="199.6" stroke="#6a6a6a" stroke-width="3.2" stroke-linecap="butt"/>
<line x1="350.6" y1="174.9" x2="368.2" y2="199.6" stroke="#e2e2e2" stroke-width="1.9000000000000001" stroke-linecap="butt"/>
<line x1="293.7" y1="201.7" x2="313.3" y2="174" stroke="#6a6a6a" stroke-width="3.2" stroke-linecap="butt"/>
<line x1="293.7" y1="201.7" x2="313.3" y2="174" stroke="#e2e2e2" stroke-width="1.9000000000000001" stroke-linecap="butt"/>
<line x1="293.7" y1="201.7" x2="277.9" y2="192.6" stroke="#6a6a6a" stroke-width="3.2" stroke-linecap="butt"/>
<line x1="293.7" y1="201.7" x2="277.9" y2="192.6" stroke="#e2e2e2" stroke-width="1.9000000000000001" stroke-linecap="butt"/>
<line x1="445.9" y1="200.9" x2="463.2" y2="202.6" stroke="#6a6a6a" stroke-width="3.2" stroke-linecap="butt"/>
<line x1="445.9" y1="200.9" x2="463.2" y2="202.6" stroke="#e2e2e2" stroke-width="1.9000000000000001" stroke-linecap="butt"/>
<line x1="426.2" y1="200.6" x2="445.9" y2="200.9" stroke="#6a6a6a" stroke-width="3.2" stroke-linecap="butt"/>
<line x1="426.2" y1="200.6" x2="445.9" y2="200.9" stroke="#e2e2e2" stroke-width="1.9000000000000001" stroke-linecap="butt"/>
<line x1="293.7" y1="201.7" x2="287" y2="205.5" stroke="#6a6a6a" stroke-width="3.2" stroke-linecap="butt"/>
<line x1="293.7" y1="201.7" x2="287" y2="205.5" stroke="#e2e2e2" stroke-width="1.9000000000000001" stroke-linecap="butt"/>
<line x1="368.2" y1="199.6" x2="387.4" y2="196.9" stroke="#6a6a6a" stroke-width="3.2" stroke-linecap="butt"/>
<line x1="368.2" y1="199.6" x2="387.4" y2="196.9" stroke="#e2e2e2" stroke-width="1.9000000000000001" stroke-linecap="butt"/>
<line x1="348.5" y1="194.3" x2="368.2" y2="199.6" stroke="#6a6a6a" stroke-width="3.2" stroke-linecap="butt"/>
<line x1="348.5" y1="194.3" x2="368.2" y2="199.6" stroke="#e2e2e2" stroke-width="1.9000000000000001" stroke-linecap="butt"/>
<line x1="293.7" y1="201.7" x2="311.3" y2="193.8" stroke="#6a6a6a" stroke-width="3.2" stroke-linecap="butt"/>
<line x1="293.7" y1="201.7" x2="311.3" y2="193.8" stroke="#e2e2e2" stroke-width="1.9000000000000001" stroke-linecap="butt"/>
<line x1="445.9" y1="200.9" x2="480.5" y2="220.4" stroke="#6a6a6a" stroke-width="3.2" stroke-linecap="butt"/>
<line x1="445.9" y1="200.9" x2="480.5" y2="220.4" stroke="#e2e2e2" stroke-width="1.9000000000000001" stroke-linecap="butt"/>
<line x1="463.2" y1="210.6" x2="463.2" y2="202.6" stroke="#6a6a6a" stroke-width="3.2" stroke-linecap="butt"/>
<line x1="463.2" y1="210.6" x2="463.2" y2="202.6" stroke="#e2e2e2" stroke-width="1.9000000000000001" stroke-linecap="butt"/>
<line x1="406.6" y1="223.3" x2="445.9" y2="200.9" stroke="#6a6a6a" stroke-width="3.2" stroke-linecap="butt"/>
<line x1="406.6" y1="223.3" x2="445.9" y2="200.9" stroke="#e2e2e2" stroke-width="1.9000000000000001" stroke-linecap="butt"/>
<line x1="426.2" y1="212.1" x2="426.2" y2="200.6" stroke="#6a6a6a" stroke-width="3.2" stroke-linecap="butt"/>
<line x1="426.2" y1="212.1" x2="426.2" y2="200.6" stroke="#e2e2e2" stroke-width="1.9000000000000001" stroke-linecap="butt"/>
<line x1="368.2" y1="199.6" x2="406.6" y2="223.3" stroke="#6a6a6a" stroke-width="3.2" stroke-linecap="butt"/>
<line x1="368.2" y1="199.6" x2="406.6" y2="223.3" stroke="#e2e2e2" stroke-width="1.9000000000000001" stroke-linecap="butt"/>
<line x1="387.4" y1="211.4" x2="387.4" y2="196.9" stroke="#6a6a6a" stroke-width="3.2" stroke-linecap="butt"/>
<line x1="387.4" y1="211.4" x2="387.4" y2="196.9" stroke="#e2e2e2" stroke-width="1.9000000000000001" stroke-linecap="butt"/>
<line x1="328.9" y1="222" x2="368.2" y2="199.6" stroke="#6a6a6a" stroke-width="3.2" stroke-linecap="butt"/>
<line x1="328.9" y1="222" x2="368.2" y2="199.6" stroke="#e2e2e2" stroke-width="1.9000000000000001" stroke-linecap="butt"/>
<line x1="348.5" y1="210.8" x2="348.5" y2="194.3" stroke="#6a6a6a" stroke-width="3.2" stroke-linecap="butt"/>
<line x1="348.5" y1="210.8" x2="348.5" y2="194.3" stroke="#e2e2e2" stroke-width="1.9000000000000001" stroke-linecap="butt"/>
<line x1="293.7" y1="201.7" x2="328.9" y2="222" stroke="#6a6a6a" stroke-width="3.2" stroke-linecap="butt"/>
<line x1="293.7" y1="201.7" x2="328.9" y2="222" stroke="#e2e2e2" stroke-width="1.9000000000000001" stroke-linecap="butt"/>
<line x1="311.3" y1="211.8" x2="311.3" y2="193.8" stroke="#6a6a6a" stroke-width="3.2" stroke-linecap="butt"/>
<line x1="311.3" y1="211.8" x2="311.3" y2="193.8" stroke="#e2e2e2" stroke-width="1.9000000000000001" stroke-linecap="butt"/>
<line x1="463.2" y1="202.6" x2="480.5" y2="220.4" stroke="#6a6a6a" stroke-width="3.2" stroke-linecap="butt"/>
<line x1="463.2" y1="202.6" x2="480.5" y2="220.4" stroke="#e2e2e2" stroke-width="1.9000000000000001" stroke-linecap="butt"/>
<line x1="406.6" y1="223.3" x2="426.2" y2="200.6" stroke="#6a6a6a" stroke-width="3.2" stroke-linecap="butt"/>
<line x1="406.6" y1="223.3" x2="426.2" y2="200.6" stroke="#e2e2e2" stroke-width="1.9000000000000001" stroke-linecap="butt"/>
<line x1="387.4" y1="196.9" x2="406.6" y2="223.3" stroke="#6a6a6a" stroke-width="3.2" stroke-linecap="butt"/>
<line x1="387.4" y1="196.9" x2="406.6" y2="223.3" stroke="#e2e2e2" stroke-width="1.9000000000000001" stroke-linecap="butt"/>
<line x1="328.9" y1="222" x2="348.5" y2="194.3" stroke="#6a6a6a" stroke-width="3.2" stroke-linecap="butt"/>
<line x1="328.9" y1="222" x2="348.5" y2="194.3" stroke="#e2e2e2" stroke-width="1.9000000000000001" stroke-linecap="butt"/>
<line x1="311.3" y1="193.8" x2="328.9" y2="222" stroke="#6a6a6a" stroke-width="3.2" stroke-linecap="butt"/>
<line x1="311.3" y1="193.8" x2="328.9" y2="222" stroke="#e2e2e2" stroke-width="1.9000000000000001" stroke-linecap="butt"/>
<line x1="480.5" y1="220.4" x2="497.2" y2="221.8" stroke="#6a6a6a" stroke-width="3.2" stroke-linecap="butt"/>
<line x1="480.5" y1="220.4" x2="497.2" y2="221.8" stroke="#e2e2e2" stroke-width="1.9000000000000001" stroke-linecap="butt"/>
<line x1="460.9" y1="220.1" x2="480.5" y2="220.4" stroke="#6a6a6a" stroke-width="3.2" stroke-linecap="butt"/>
<line x1="460.9" y1="220.1" x2="480.5" y2="220.4" stroke="#e2e2e2" stroke-width="1.9000000000000001" stroke-linecap="butt"/>
<line x1="328.9" y1="222" x2="322.2" y2="225.8" stroke="#6a6a6a" stroke-width="3.2" stroke-linecap="butt"/>
<line x1="328.9" y1="222" x2="322.2" y2="225.8" stroke="#e2e2e2" stroke-width="1.9000000000000001" stroke-linecap="butt"/>
<line x1="406.6" y1="223.3" x2="423.9" y2="218.5" stroke="#6a6a6a" stroke-width="3.2" stroke-linecap="butt"/>
<line x1="406.6" y1="223.3" x2="423.9" y2="218.5" stroke="#e2e2e2" stroke-width="1.9000000000000001" stroke-linecap="butt"/>
<line x1="386.9" y1="218" x2="406.6" y2="223.3" stroke="#6a6a6a" stroke-width="3.2" stroke-linecap="butt"/>
<line x1="386.9" y1="218" x2="406.6" y2="223.3" stroke="#e2e2e2" stroke-width="1.9000000000000001" stroke-linecap="butt"/>
<line x1="328.9" y1="222" x2="348.1" y2="215.8" stroke="#6a6a6a" stroke-width="3.2" stroke-linecap="butt"/>
<line x1="328.9" y1="222" x2="348.1" y2="215.8" stroke="#e2e2e2" stroke-width="1.9000000000000001" stroke-linecap="butt"/>
<line x1="480.5" y1="220.4" x2="513.9" y2="239.3" stroke="#6a6a6a" stroke-width="3.2" stroke-linecap="butt"/>
<line x1="480.5" y1="220.4" x2="513.9" y2="239.3" stroke="#e2e2e2" stroke-width="1.9000000000000001" stroke-linecap="butt"/>
<line x1="497.2" y1="229.8" x2="497.2" y2="221.8" stroke="#6a6a6a" stroke-width="3.2" stroke-linecap="butt"/>
<line x1="497.2" y1="229.8" x2="497.2" y2="221.8" stroke="#e2e2e2" stroke-width="1.9000000000000001" stroke-linecap="butt"/>
<line x1="441.2" y1="242.8" x2="480.5" y2="220.4" stroke="#6a6a6a" stroke-width="3.2" stroke-linecap="butt"/>
<line x1="441.2" y1="242.8" x2="480.5" y2="220.4" stroke="#e2e2e2" stroke-width="1.9000000000000001" stroke-linecap="butt"/>
<line x1="460.9" y1="231.6" x2="460.9" y2="220.1" stroke="#6a6a6a" stroke-width="3.2" stroke-linecap="butt"/>
<line x1="460.9" y1="231.6" x2="460.9" y2="220.1" stroke="#e2e2e2" stroke-width="1.9000000000000001" stroke-linecap="butt"/>
<line x1="406.6" y1="223.3" x2="441.2" y2="242.8" stroke="#6a6a6a" stroke-width="3.2" stroke-linecap="butt"/>
<line x1="406.6" y1="223.3" x2="441.2" y2="242.8" stroke="#e2e2e2" stroke-width="1.9000000000000001" stroke-linecap="butt"/>
<line x1="423.9" y1="233" x2="423.9" y2="218.5" stroke="#6a6a6a" stroke-width="3.2" stroke-linecap="butt"/>
<line x1="423.9" y1="233" x2="423.9" y2="218.5" stroke="#e2e2e2" stroke-width="1.9000000000000001" stroke-linecap="butt"/>
<line x1="367.3" y1="245.7" x2="406.6" y2="223.3" stroke="#6a6a6a" stroke-width="3.2" stroke-linecap="butt"/>
<line x1="367.3" y1="245.7" x2="406.6" y2="223.3" stroke="#e2e2e2" stroke-width="1.9000000000000001" stroke-linecap="butt"/>
<line x1="386.9" y1="234.5" x2="386.9" y2="218" stroke="#6a6a6a" stroke-width="3.2" stroke-linecap="butt"/>
<line x1="386.9" y1="234.5" x2="386.9" y2="218" stroke="#e2e2e2" stroke-width="1.9000000000000001" stroke-linecap="butt"/>
<line x1="328.9" y1="222" x2="367.3" y2="245.7" stroke="#6a6a6a" stroke-width="3.2" stroke-linecap="butt"/>
<line x1="328.9" y1="222" x2="367.3" y2="245.7" stroke="#e2e2e2" stroke-width="1.9000000000000001" stroke-linecap="butt"/>
<line x1="348.1" y1="233.8" x2="348.1" y2="215.8" stroke="#6a6a6a" stroke-width="3.2" stroke-linecap="butt"/>
<line x1="348.1" y1="233.8" x2="348.1" y2="215.8" stroke="#e2e2e2" stroke-width="1.9000000000000001" stroke-linecap="butt"/>
<line x1="497.2" y1="221.8" x2="513.9" y2="239.3" stroke="#6a6a6a" stroke-width="3.2" stroke-linecap="butt"/>
<line x1="497.2" y1="221.8" x2="513.9" y2="239.3" stroke="#e2e2e2" stroke-width="1.9000000000000001" stroke-linecap="butt"/>
<line x1="441.2" y1="242.8" x2="460.9" y2="220.1" stroke="#6a6a6a" stroke-width="3.2" stroke-linecap="butt"/>
<line x1="441.2" y1="242.8" x2="460.9" y2="220.1" stroke="#e2e2e2" stroke-width="1.9000000000000001" stroke-linecap="butt"/>
<line x1="423.9" y1="218.5" x2="441.2" y2="242.8" stroke="#6a6a6a" stroke-width="3.2" stroke-linecap="butt"/>
<line x1="423.9" y1="218.5" x2="441.2" y2="242.8" stroke="#e2e2e2" stroke-width="1.9000000000000001" stroke-linecap="butt"/>
<line x1="367.3" y1="245.7" x2="386.9" y2="218" stroke="#6a6a6a" stroke-width="3.2" stroke-linecap="butt"/>
<line x1="367.3" y1="245.7" x2="386.9" y2="218" stroke="#e2e2e2" stroke-width="1.9000000000000001" stroke-linecap="butt"/>
<line x1="348.1" y1="215.8" x2="367.3" y2="245.7" stroke="#6a6a6a" stroke-width="3.2" stroke-linecap="butt"/>
<line x1="348.1" y1="215.8" x2="367.3" y2="245.7" stroke="#e2e2e2" stroke-width="1.9000000000000001" stroke-linecap="butt"/>
<line x1="494.2" y1="239" x2="513.9" y2="239.3" stroke="#6a6a6a" stroke-width="3.2" stroke-linecap="butt"/>
<line x1="494.2" y1="239" x2="513.9" y2="239.3" stroke="#e2e2e2" stroke-width="1.9000000000000001" stroke-linecap="butt"/>
<line x1="367.3" y1="245.7" x2="360.6" y2="249.5" stroke="#6a6a6a" stroke-width="3.2" stroke-linecap="butt"/>
<line x1="367.3" y1="245.7" x2="360.6" y2="249.5" stroke="#e2e2e2" stroke-width="1.9000000000000001" stroke-linecap="butt"/>
<line x1="441.2" y1="242.8" x2="457.9" y2="237.8" stroke="#6a6a6a" stroke-width="3.2" stroke-linecap="butt"/>
<line x1="441.2" y1="242.8" x2="457.9" y2="237.8" stroke="#e2e2e2" stroke-width="1.9000000000000001" stroke-linecap="butt"/>
<line x1="421.6" y1="237.5" x2="441.2" y2="242.8" stroke="#6a6a6a" stroke-width="3.2" stroke-linecap="butt"/>
<line x1="421.6" y1="237.5" x2="441.2" y2="242.8" stroke="#e2e2e2" stroke-width="1.9000000000000001" stroke-linecap="butt"/>
<line x1="367.3" y1="245.7" x2="384.6" y2="237.4" stroke="#6a6a6a" stroke-width="3.2" stroke-linecap="butt"/>
<line x1="367.3" y1="245.7" x2="384.6" y2="237.4" stroke="#e2e2e2" stroke-width="1.9000000000000001" stroke-linecap="butt"/>
<line x1="474.6" y1="261.7" x2="513.9" y2="239.3" stroke="#6a6a6a" stroke-width="3.2" stroke-linecap="butt"/>
<line x1="474.6" y1="261.7" x2="513.9" y2="239.3" stroke="#e2e2e2" stroke-width="1.9000000000000001" stroke-linecap="butt"/>
<line x1="494.2" y1="250.5" x2="494.2" y2="239" stroke="#6a6a6a" stroke-width="3.2" stroke-linecap="butt"/>
<line x1="494.2" y1="250.5" x2="494.2" y2="239" stroke="#e2e2e2" stroke-width="1.9000000000000001" stroke-linecap="butt"/>
<line x1="441.2" y1="242.8" x2="474.6" y2="261.7" stroke="#6a6a6a" stroke-width="3.2" stroke-linecap="butt"/>
<line x1="441.2" y1="242.8" x2="474.6" y2="261.7" stroke="#e2e2e2" stroke-width="1.9000000000000001" stroke-linecap="butt"/>
<line x1="457.9" y1="252.2" x2="457.9" y2="237.8" stroke="#6a6a6a" stroke-width="3.2" stroke-linecap="butt"/>
<line x1="457.9" y1="252.2" x2="457.9" y2="237.8" stroke="#e2e2e2" stroke-width="1.9000000000000001" stroke-linecap="butt"/>
<line x1="401.9" y1="265.2" x2="441.2" y2="242.8" stroke="#6a6a6a" stroke-width="3.2" stroke-linecap="butt"/>
<line x1="401.9" y1="265.2" x2="441.2" y2="242.8" stroke="#e2e2e2" stroke-width="1.9000000000000001" stroke-linecap="butt"/>
<line x1="421.6" y1="254" x2="421.6" y2="237.5" stroke="#6a6a6a" stroke-width="3.2" stroke-linecap="butt"/>
<line x1="421.6" y1="254" x2="421.6" y2="237.5" stroke="#e2e2e2" stroke-width="1.9000000000000001" stroke-linecap="butt"/>
<line x1="367.3" y1="245.7" x2="401.9" y2="265.2" stroke="#6a6a6a" stroke-width="3.2" stroke-linecap="butt"/>
<line x1="367.3" y1="245.7" x2="401.9" y2="265.2" stroke="#e2e2e2" stroke-width="1.9000000000000001" stroke-linecap="butt"/>
<line x1="384.6" y1="255.4" x2="384.6" y2="237.4" stroke="#6a6a6a" stroke-width="3.2" stroke-linecap="butt"/>
<line x1="384.6" y1="255.4" x2="384.6" y2="237.4" stroke="#e2e2e2" stroke-width="1.9000000000000001" stroke-linecap="butt"/>
<line x1="474.6" y1="261.7" x2="494.2" y2="239" stroke="#6a6a6a" stroke-width="3.2" stroke-linecap="butt"/>
<line x1="474.6" y1="261.7" x2="494.2" y2="239" stroke="#e2e2e2" stroke-width="1.9000000000000001" stroke-linecap="butt"/>
<line x1="457.9" y1="237.8" x2="474.6" y2="261.7" stroke="#6a6a6a" stroke-width="3.2" stroke-linecap="butt"/>
<line x1="457.9" y1="237.8" x2="474.6" y2="261.7" stroke="#e2e2e2" stroke-width="1.9000000000000001" stroke-linecap="butt"/>
<line x1="401.9" y1="265.2" x2="421.6" y2="237.5" stroke="#6a6a6a" stroke-width="3.2" stroke-linecap="butt"/>
<line x1="401.9" y1="265.2" x2="421.6" y2="237.5" stroke="#e2e2e2" stroke-width="1.9000000000000001" stroke-linecap="butt"/>
<line x1="384.6" y1="237.4" x2="401.9" y2="265.2" stroke="#6a6a6a" stroke-width="3.2" stroke-linecap="butt"/>
<line x1="384.6" y1="237.4" x2="401.9" y2="265.2" stroke="#e2e2e2" stroke-width="1.9000000000000001" stroke-linecap="butt"/>
<line x1="401.9" y1="265.2" x2="395.2" y2="269" stroke="#6a6a6a" stroke-width="3.2" stroke-linecap="butt"/>
<line x1="401.9" y1="265.2" x2="395.2" y2="269" stroke="#e2e2e2" stroke-width="1.9000000000000001" stroke-linecap="butt"/>
<line x1="454.9" y1="256.4" x2="474.6" y2="261.7" stroke="#6a6a6a" stroke-width="3.2" stroke-linecap="butt"/>
<line x1="454.9" y1="256.4" x2="474.6" y2="261.7" stroke="#e2e2e2" stroke-width="1.9000000000000001" stroke-linecap="butt"/>
<line x1="401.9" y1="265.2" x2="418.6" y2="256.6" stroke="#6a6a6a" stroke-width="3.2" stroke-linecap="butt"/>
<line x1="401.9" y1="265.2" x2="418.6" y2="256.6" stroke="#e2e2e2" stroke-width="1.9000000000000001" stroke-linecap="butt"/>
<line x1="435.3" y1="284.1" x2="474.6" y2="261.7" stroke="#6a6a6a" stroke-width="3.2" stroke-linecap="butt"/>
<line x1="435.3" y1="284.1" x2="474.6" y2="261.7" stroke="#e2e2e2" stroke-width="1.9000000000000001" stroke-linecap="butt"/>
<line x1="454.9" y1="272.9" x2="454.9" y2="256.4" stroke="#6a6a6a" stroke-width="3.2" stroke-linecap="butt"/>
<line x1="454.9" y1="272.9" x2="454.9" y2="256.4" stroke="#e2e2e2" stroke-width="1.9000000000000001" stroke-linecap="butt"/>
<line x1="401.9" y1="265.2" x2="435.3" y2="284.1" stroke="#6a6a6a" stroke-width="3.2" stroke-linecap="butt"/>
<line x1="401.9" y1="265.2" x2="435.3" y2="284.1" stroke="#e2e2e2" stroke-width="1.9000000000000001" stroke-linecap="butt"/>
<line x1="418.6" y1="274.6" x2="418.6" y2="256.6" stroke="#6a6a6a" stroke-width="3.2" stroke-linecap="butt"/>
<line x1="418.6" y1="274.6" x2="418.6" y2="256.6" stroke="#e2e2e2" stroke-width="1.9000000000000001" stroke-linecap="butt"/>
<line x1="435.3" y1="284.1" x2="454.9" y2="256.4" stroke="#6a6a6a" stroke-width="3.2" stroke-linecap="butt"/>
<line x1="435.3" y1="284.1" x2="454.9" y2="256.4" stroke="#e2e2e2" stroke-width="1.9000000000000001" stroke-linecap="butt"/>
<line x1="418.6" y1="256.6" x2="435.3" y2="284.1" stroke="#6a6a6a" stroke-width="3.2" stroke-linecap="butt"/>
<line x1="418.6" y1="256.6" x2="435.3" y2="284.1" stroke="#e2e2e2" stroke-width="1.9000000000000001" stroke-linecap="butt"/>
<line x1="435.3" y1="284.1" x2="428.6" y2="287.9" stroke="#6a6a6a" stroke-width="3.2" stroke-linecap="butt"/>
<line x1="435.3" y1="284.1" x2="428.6" y2="287.9" stroke="#e2e2e2" stroke-width="1.9000000000000001" stroke-linecap="butt"/>
<rect x="290.5" y="293" width="6.8" height="55.6" fill="#d9d9d9" stroke="#6e6e6e" stroke-width="0.75"/>
<line x1="293.3" y1="294" x2="293.3" y2="348.6" stroke="#9a9a9a" stroke-width="0.6" />
<line x1="295.5" y1="294" x2="295.5" y2="348.6" stroke="#f2f2f2" stroke-width="0.8" />
<polyline points="290.5,293 293.4,291.2 297.3,293" fill="none" stroke="#6e6e6e" stroke-width="0.7" stroke-linejoin="round" />
<rect x="329.4" y="276.4" width="6.8" height="48.6" fill="#d9d9d9" stroke="#6e6e6e" stroke-width="0.75"/>
<line x1="332.2" y1="277.4" x2="332.2" y2="325" stroke="#9a9a9a" stroke-width="0.6" />
<line x1="334.4" y1="277.4" x2="334.4" y2="325" stroke="#f2f2f2" stroke-width="0.8" />
<polyline points="329.4,276.4 332.3,274.6 336.2,276.4" fill="none" stroke="#6e6e6e" stroke-width="0.7" stroke-linejoin="round" />
<rect x="324.4" y="313.3" width="6.8" height="54.7" fill="#d9d9d9" stroke="#6e6e6e" stroke-width="0.75"/>
<line x1="327.2" y1="314.3" x2="327.2" y2="368" stroke="#9a9a9a" stroke-width="0.6" />
<line x1="329.4" y1="314.3" x2="329.4" y2="368" stroke="#f2f2f2" stroke-width="0.8" />
<polyline points="324.4,313.3 327.3,311.5 331.2,313.3" fill="none" stroke="#6e6e6e" stroke-width="0.7" stroke-linejoin="round" />
<rect x="368.8" y="259.7" width="6.8" height="43.1" fill="#d9d9d9" stroke="#6e6e6e" stroke-width="0.75"/>
<line x1="371.6" y1="260.7" x2="371.6" y2="302.8" stroke="#9a9a9a" stroke-width="0.6" />
<line x1="373.8" y1="260.7" x2="373.8" y2="302.8" stroke="#f2f2f2" stroke-width="0.8" />
<polyline points="368.8,259.7 371.7,257.9 375.6,259.7" fill="none" stroke="#6e6e6e" stroke-width="0.7" stroke-linejoin="round" />
<rect x="363.3" y="295.8" width="6.8" height="94.5" fill="#d9d9d9" stroke="#6e6e6e" stroke-width="0.75"/>
<line x1="366.1" y1="296.8" x2="366.1" y2="390.3" stroke="#9a9a9a" stroke-width="0.6" />
<line x1="368.3" y1="296.8" x2="368.3" y2="390.3" stroke="#f2f2f2" stroke-width="0.8" />
<polyline points="363.3,295.8 366.2,294 370.1,295.8" fill="none" stroke="#6e6e6e" stroke-width="0.7" stroke-linejoin="round" />
<rect x="402.4" y="279" width="6.8" height="60" fill="#d9d9d9" stroke="#6e6e6e" stroke-width="0.75"/>
<line x1="405.2" y1="280" x2="405.2" y2="339" stroke="#9a9a9a" stroke-width="0.6" />
<line x1="407.4" y1="280" x2="407.4" y2="339" stroke="#f2f2f2" stroke-width="0.8" />
<polyline points="402.4,279 405.3,277.2 409.2,279" fill="none" stroke="#6e6e6e" stroke-width="0.7" stroke-linejoin="round" />
<rect x="398" y="355" width="6.8" height="56" fill="#d9d9d9" stroke="#6e6e6e" stroke-width="0.75"/>
<line x1="400.8" y1="356" x2="400.8" y2="411" stroke="#9a9a9a" stroke-width="0.6" />
<line x1="403" y1="356" x2="403" y2="411" stroke="#f2f2f2" stroke-width="0.8" />
<polyline points="398,355 400.9,353.2 404.8,355" fill="none" stroke="#6e6e6e" stroke-width="0.7" stroke-linejoin="round" />
<rect x="441.9" y="301.4" width="6.8" height="44.4" fill="#d9d9d9" stroke="#6e6e6e" stroke-width="0.75"/>
<line x1="444.7" y1="302.4" x2="444.7" y2="345.8" stroke="#9a9a9a" stroke-width="0.6" />
<line x1="446.9" y1="302.4" x2="446.9" y2="345.8" stroke="#f2f2f2" stroke-width="0.8" />
<polyline points="441.9,301.4 444.8,299.6 448.7,301.4" fill="none" stroke="#6e6e6e" stroke-width="0.7" stroke-linejoin="round" />
<rect x="431.6" y="375" width="6.8" height="55.5" fill="#d9d9d9" stroke="#6e6e6e" stroke-width="0.75"/>
<line x1="434.4" y1="376" x2="434.4" y2="430.5" stroke="#9a9a9a" stroke-width="0.6" />
<line x1="436.6" y1="376" x2="436.6" y2="430.5" stroke="#f2f2f2" stroke-width="0.8" />
<polyline points="431.6,375 434.5,373.2 438.4,375" fill="none" stroke="#6e6e6e" stroke-width="0.7" stroke-linejoin="round" />
<rect x="476" y="321.7" width="6.8" height="43.6" fill="#d9d9d9" stroke="#6e6e6e" stroke-width="0.75"/>
<line x1="478.8" y1="322.7" x2="478.8" y2="365.3" stroke="#9a9a9a" stroke-width="0.6" />
<line x1="481" y1="322.7" x2="481" y2="365.3" stroke="#f2f2f2" stroke-width="0.8" />
<polyline points="476,321.7 478.9,319.9 482.8,321.7" fill="none" stroke="#6e6e6e" stroke-width="0.7" stroke-linejoin="round" />
<rect x="471" y="358" width="6.8" height="50" fill="#d9d9d9" stroke="#6e6e6e" stroke-width="0.75"/>
<line x1="473.8" y1="359" x2="473.8" y2="408" stroke="#9a9a9a" stroke-width="0.6" />
<line x1="476" y1="359" x2="476" y2="408" stroke="#f2f2f2" stroke-width="0.8" />
<polyline points="471,358 473.9,356.2 477.8,358" fill="none" stroke="#6e6e6e" stroke-width="0.7" stroke-linejoin="round" />
<rect x="509.9" y="341.7" width="6.8" height="44.3" fill="#d9d9d9" stroke="#6e6e6e" stroke-width="0.75"/>
<line x1="512.7" y1="342.7" x2="512.7" y2="386" stroke="#9a9a9a" stroke-width="0.6" />
<line x1="514.9" y1="342.7" x2="514.9" y2="386" stroke="#f2f2f2" stroke-width="0.8" />
<polyline points="509.9,341.7 512.8,339.9 516.7,341.7" fill="none" stroke="#6e6e6e" stroke-width="0.7" stroke-linejoin="round" />
<rect x="399.5" y="340" width="2.6" height="20" fill="#e0e0e0" stroke="#666" stroke-width="0.6"/>
<rect x="410.7" y="333" width="2.6" height="28" fill="#e0e0e0" stroke="#666" stroke-width="0.6"/>
<rect x="444.5" y="354" width="2.6" height="26.5" fill="#e0e0e0" stroke="#666" stroke-width="0.6"/>
<rect x="433.7" y="360" width="2.6" height="15" fill="#e0e0e0" stroke="#666" stroke-width="0.6"/>
<rect x="437.2" y="339.5" width="6.5" height="18.5" fill="#d9d9d9" stroke="#6e6e6e" stroke-width="0.75"/>
<line x1="439.9" y1="340.5" x2="439.9" y2="358" stroke="#9a9a9a" stroke-width="0.6" />
<line x1="442.1" y1="340.5" x2="442.1" y2="358" stroke="#f2f2f2" stroke-width="0.8" />
<polyline points="437.2,339.5 440,337.7 443.8,339.5" fill="none" stroke="#6e6e6e" stroke-width="0.7" stroke-linejoin="round" />
<polyline points="412.2,459.6 412.2,446 443.6,428.8 445,430" fill="none" stroke="#333" stroke-width="1.5" stroke-linejoin="round" />
<line x1="422.3" y1="442" x2="422.3" y2="464" stroke="#aaa" stroke-width="1.2" />
<line x1="431.7" y1="447" x2="431.7" y2="458.7" stroke="#aaa" stroke-width="1.2" />
<line x1="439.6" y1="444" x2="439.6" y2="449.9" stroke="#aaa" stroke-width="1.2" />
<line x1="445.7" y1="430.7" x2="445.7" y2="446" stroke="#aaa" stroke-width="1.2" />
<line x1="422.3" y1="441.3" x2="454.3" y2="444.7" stroke="#aaa" stroke-width="1.2" />
<line x1="432" y1="447" x2="445.7" y2="438" stroke="#aaa" stroke-width="1.2" />
<polygon points="430.3,457.3 464.3,438 464.3,462.7 430.3,482" fill="#8b8b8b" stroke="#444" stroke-width="0.9" stroke-linejoin="round" />
<polygon points="430.3,457.3 464.3,477.3 464.3,504 430.3,484" fill="#8b8b8b" stroke="#444" stroke-width="0.9" stroke-linejoin="round" />
<line x1="445.7" y1="466" x2="445.7" y2="492" stroke="#333" stroke-width="1.2" />
<polygon points="368.9,470.6 400.6,453.9 400.6,477.6 368.9,495" fill="#8b8b8b" stroke="#444" stroke-width="0.9" stroke-linejoin="round" />
<polygon points="400.6,453.9 435,473.3 435,497.3 400.6,477.6" fill="#8b8b8b" stroke="#444" stroke-width="0.9" stroke-linejoin="round" />
<polygon points="464.3,477.3 472.3,482 472.3,504.5 464.3,500" fill="#4a4a4a" stroke="#333" stroke-width="0.8" stroke-linejoin="round" />
<polygon points="472.3,482 475.7,480 475.7,504 472.3,504.5" fill="#bdbdbd" stroke="#555" stroke-width="0.7" stroke-linejoin="round" />
<polygon points="403,491.3 435,473.3 435,497.3 403,515.3" fill="#8b8b8b" stroke="#444" stroke-width="0.9" stroke-linejoin="round" />
<polygon points="435,473.3 469,492.7 469,516 435,497.3" fill="#8b8b8b" stroke="#444" stroke-width="0.9" stroke-linejoin="round" />
<line x1="435" y1="473.3" x2="435" y2="497.3" stroke="#333" stroke-width="1.3" />
<polygon points="495.6,459.3 503,463 503,487 495.6,483" fill="#4a4a4a" stroke="#333" stroke-width="0.8" stroke-linejoin="round" />
<polygon points="503,463 505.7,461.5 505.7,487.3 503,487" fill="#c4c4c4" stroke="#555" stroke-width="0.7" stroke-linejoin="round" />
<polygon points="495.6,459.3 498.3,457.8 505.7,461.5 503,463" fill="#ddd" stroke="#555" stroke-width="0.6" stroke-linejoin="round" />
<polygon points="329.3,445.3 353.3,435 353.3,460.5 329.3,472" fill="#fff" stroke="#444" stroke-width="0.8" stroke-linejoin="round" />
<line x1="329.3" y1="445.3" x2="329.3" y2="472" stroke="#333" stroke-width="1.3" />
<polygon points="333.3,421.7 338.3,418.3 361.7,431.7 357.2,433.9" fill="#fff" stroke="#555" stroke-width="0.8" stroke-linejoin="round" />
<line x1="335.5" y1="423" x2="335.5" y2="431" stroke="#666" stroke-width="0.7" />
<polygon points="362.2,446.7 384,459 384,462.3 362.2,450.3" fill="#fff" stroke="#555" stroke-width="0.7" stroke-linejoin="round" />
<polygon points="355,435 361.7,431.5 361.7,462 355,465.5" fill="#4a4a4a" stroke="#333" stroke-width="0.8" stroke-linejoin="round" />
<polygon points="352.3,437 355,435 355,465.5 352.3,467" fill="#c8c8c8" stroke="#555" stroke-width="0.7" stroke-linejoin="round" />
<polygon points="384.4,456 392,452 394.4,454 394.4,458 386.8,462 384.4,460" fill="#6a6a6a" stroke="#444" stroke-width="0.6" stroke-linejoin="round" />
<polygon points="206.1,331 232.8,315.8 232.8,328.1 206.1,340.4" fill="#474747" stroke="#555" stroke-width="0.7" stroke-linejoin="round" />
<polygon points="217.8,336.7 253.3,318.4 253.3,324.7 217.8,343" fill="#f4f4f4" stroke="#777" stroke-width="0.9" stroke-linejoin="round" />
<polygon points="237.2,333.2 272.5,318 272.5,331.7 237.2,346.9" fill="#474747" stroke="#555" stroke-width="0.7" stroke-linejoin="round" />
<line x1="237.3" y1="348.4" x2="273.3" y2="330.6" stroke="#3a3a3a" stroke-width="1.1" />
<line x1="237.8" y1="351.5" x2="262.5" y2="339.5" stroke="#3a3a3a" stroke-width="1.1" />
<line x1="242.5" y1="358.6" x2="267.8" y2="346.6" stroke="#3a3a3a" stroke-width="1.1" />
<line x1="242.5" y1="365.5" x2="267.8" y2="353.5" stroke="#3a3a3a" stroke-width="1.1" />
<line x1="237.3" y1="348.4" x2="237.3" y2="360" stroke="#3a3a3a" stroke-width="1.1" />
<line x1="242.3" y1="349.5" x2="242.3" y2="373" stroke="#3a3a3a" stroke-width="1.1" />
<line x1="262.4" y1="337" x2="262.4" y2="357" stroke="#3a3a3a" stroke-width="1.1" />
<line x1="267.8" y1="333.3" x2="267.8" y2="356" stroke="#3a3a3a" stroke-width="1.1" />
<line x1="273.3" y1="330.6" x2="273.3" y2="352" stroke="#3a3a3a" stroke-width="1.1" />
<line x1="237.3" y1="360" x2="242.3" y2="363" stroke="#3a3a3a" stroke-width="1.0" />
<polygon points="242.5,358.6 267.8,346.6 267.8,361 242.5,373" fill="#fff" stroke="#383838" stroke-width="1.3" stroke-linejoin="round" />
<line x1="248.8" y1="355.6" x2="248.8" y2="370" stroke="#383838" stroke-width="1.1700000000000002" />
<line x1="255.2" y1="352.6" x2="255.2" y2="367" stroke="#383838" stroke-width="1.1700000000000002" />
<line x1="261.5" y1="349.6" x2="261.5" y2="364" stroke="#383838" stroke-width="1.1700000000000002" />
<line x1="242.5" y1="365.8" x2="267.8" y2="353.8" stroke="#383838" stroke-width="1.1700000000000002" />
<polygon points="178.7,361.3 198.2,350.5 198.2,373.6 178.7,385.2" fill="#fff" stroke="#444" stroke-width="0.8" stroke-linejoin="round" />
<polygon points="198.2,348.3 233.5,334.6 233.5,354.8 198.2,369.3" fill="#474747" stroke="#555" stroke-width="0.7" stroke-linejoin="round" />
<polygon points="198.2,370 233.5,352.7 233.5,374.3 198.2,396" fill="#fff" stroke="#383838" stroke-width="1.4300000000000002" stroke-linejoin="round" />
<line x1="204.1" y1="367.1" x2="204.1" y2="392.4" stroke="#383838" stroke-width="1.2870000000000001" />
<line x1="210" y1="364.2" x2="210" y2="388.8" stroke="#383838" stroke-width="1.2870000000000001" />
<line x1="215.8" y1="361.4" x2="215.8" y2="385.1" stroke="#383838" stroke-width="1.2870000000000001" />
<line x1="221.7" y1="358.5" x2="221.7" y2="381.5" stroke="#383838" stroke-width="1.2870000000000001" />
<line x1="227.6" y1="355.6" x2="227.6" y2="377.9" stroke="#383838" stroke-width="1.2870000000000001" />
<line x1="198.2" y1="383" x2="233.5" y2="363.5" stroke="#383838" stroke-width="1.2870000000000001" />
<polygon points="218.4,385.2 253.8,365.7 253.8,387.3 218.4,407.5" fill="#8c8c8c" stroke="#555" stroke-width="0.7" stroke-linejoin="round" />
<polygon points="256.6,362.8 290.6,344 292,365.7 257.4,385.2" fill="#fff" stroke="#444" stroke-width="0.8" stroke-linejoin="round" />
<polygon points="262.5,362.6 288.5,348.3 288.5,357.7 262.5,372.3" fill="none" stroke="#444" stroke-width="0.8" stroke-linejoin="round" />
<line x1="256.6" y1="362.8" x2="257.4" y2="385.2" stroke="#444" stroke-width="1.3" />
<polygon points="589,262.5 619.5,280 619.5,304 589,287" fill="#b4b4b4" stroke="#777" stroke-width="0.6" stroke-linejoin="round" />
<polygon points="569,273.5 600,292 600,315 569,296" fill="#fff" stroke="#383838" stroke-width="1.4300000000000002" stroke-linejoin="round" />
<line x1="575.2" y1="277.2" x2="575.2" y2="299.8" stroke="#383838" stroke-width="1.2870000000000001" />
<line x1="581.4" y1="280.9" x2="581.4" y2="303.6" stroke="#383838" stroke-width="1.2870000000000001" />
<line x1="587.6" y1="284.6" x2="587.6" y2="307.4" stroke="#383838" stroke-width="1.2870000000000001" />
<line x1="593.8" y1="288.3" x2="593.8" y2="311.2" stroke="#383838" stroke-width="1.2870000000000001" />
<line x1="569" y1="284.8" x2="600" y2="303.5" stroke="#383838" stroke-width="1.2870000000000001" />
<polygon points="603,292 606.5,294 606.5,321.5 603,320" fill="#c8c8c8" stroke="#555" stroke-width="0.6" stroke-linejoin="round" />
<polygon points="606.5,294 612.5,291 612.5,318.5 606.5,321.5" fill="#474747" stroke="#333" stroke-width="0.7" stroke-linejoin="round" />
<polygon points="603,292 609,289 612.5,291 606.5,294" fill="#ddd" stroke="#555" stroke-width="0.6" stroke-linejoin="round" />
<polygon points="549.5,285 580,305 580,326 549.5,309" fill="#8c8c8c" stroke="#666" stroke-width="0.6" stroke-linejoin="round" />
<polygon points="662,304.2 685.3,317 685.3,339 662,326.2" fill="#b4b4b4" stroke="#777" stroke-width="0.6" stroke-linejoin="round" />
<polygon points="635.2,313.5 638.2,312 638.2,338 635.2,336" fill="#c8c8c8" stroke="#555" stroke-width="0.6" stroke-linejoin="round" />
<polygon points="638.2,312 645,308.4 645,335 638.2,338" fill="#474747" stroke="#333" stroke-width="0.7" stroke-linejoin="round" />
<polygon points="635.2,313.5 642,310 645,308.4 638.2,312" fill="#ddd" stroke="#555" stroke-width="0.6" stroke-linejoin="round" />
<polygon points="645,317 673,332.9 673,356 645,340" fill="#fff" stroke="#383838" stroke-width="1.4300000000000002" stroke-linejoin="round" />
<line x1="652" y1="321" x2="652" y2="344" stroke="#383838" stroke-width="1.2870000000000001" />
<line x1="659" y1="324.9" x2="659" y2="348" stroke="#383838" stroke-width="1.2870000000000001" />
<line x1="666" y1="328.9" x2="666" y2="352" stroke="#383838" stroke-width="1.2870000000000001" />
<line x1="645" y1="328.5" x2="673" y2="344.4" stroke="#383838" stroke-width="1.2870000000000001" />
<polygon points="659.6,326 665.7,329.5 665.7,353 659.6,349.5" fill="#555" stroke="#333" stroke-width="0.6" stroke-linejoin="round" />
<polygon points="622.3,327.4 645.6,341.4 645.6,363.4 622.3,350.6" fill="#8c8c8c" stroke="#666" stroke-width="0.6" stroke-linejoin="round" />
<polygon points="676.1,335.3 693.8,345.1 693.8,368.3 676.1,358.6" fill="#fff" stroke="#383838" stroke-width="1.4300000000000002" stroke-linejoin="round" />
<line x1="682" y1="338.6" x2="682" y2="361.8" stroke="#383838" stroke-width="1.2870000000000001" />
<line x1="687.9" y1="341.8" x2="687.9" y2="365.1" stroke="#383838" stroke-width="1.2870000000000001" />
<line x1="676.1" y1="347" x2="693.8" y2="356.7" stroke="#383838" stroke-width="1.2870000000000001" />
<polygon points="656.5,348.2 673,356.1 673,379.3 656.5,370.8" fill="#8c8c8c" stroke="#666" stroke-width="0.6" stroke-linejoin="round" />
<polygon points="696.3,324.3 712.8,334.1 712.8,358 696.3,348.2" fill="#b4b4b4" stroke="#777" stroke-width="0.6" stroke-linejoin="round" />
<polygon points="99.5,523 131,540.5 131,559 99.5,541.5" fill="#474747" stroke="#3a3a3a" stroke-width="0.7" stroke-linejoin="round" />
<polygon points="134,542.5 170,563 170,581.5 134,561" fill="#474747" stroke="#3a3a3a" stroke-width="0.7" stroke-linejoin="round" />
<polygon points="94,549.5 96.2,548 96.2,572.8 94,574" fill="#c8c8c8" stroke="#555" stroke-width="0.6" stroke-linejoin="round" />
<polygon points="96.2,548 103,544.8 103,569.5 96.2,572.8" fill="#474747" stroke="#333" stroke-width="0.7" stroke-linejoin="round" />
<polygon points="94,549.5 101,546 103,544.8 96.2,548" fill="#ddd" stroke="#555" stroke-width="0.6" stroke-linejoin="round" />
<polygon points="120.5,565 122,564 122,588.5 120.5,589" fill="#c8c8c8" stroke="#555" stroke-width="0.6" stroke-linejoin="round" />
<polygon points="122,564 131,561.5 131,585 122,588.5" fill="#474747" stroke="#333" stroke-width="0.7" stroke-linejoin="round" />
<polygon points="120.5,565 129,561 131,561.5 122,564" fill="#ddd" stroke="#555" stroke-width="0.6" stroke-linejoin="round" />
<polygon points="193.9,574.7 216.5,587.5 216.5,590 193.9,577.2" fill="#ccc" stroke="#777" stroke-width="0.6" stroke-linejoin="round" />
<polygon points="228.7,594.2 250.7,607 250.7,630.3 228.7,617.4" fill="#b4b4b4" stroke="#777" stroke-width="0.6" stroke-linejoin="round" />
<polygon points="173.1,565.5 204.3,582.6 204.3,601 173.1,584.4" fill="#474747" stroke="#3a3a3a" stroke-width="0.7" stroke-linejoin="round" />
<polygon points="173.7,586.3 203.7,602.8 204.9,626 174.3,607.7" fill="#fff" stroke="#383838" stroke-width="1.4300000000000002" stroke-linejoin="round" />
<line x1="179.7" y1="589.6" x2="180.4" y2="611.4" stroke="#383838" stroke-width="1.2870000000000001" />
<line x1="185.7" y1="592.9" x2="186.5" y2="615" stroke="#383838" stroke-width="1.2870000000000001" />
<line x1="191.7" y1="596.2" x2="192.7" y2="618.7" stroke="#383838" stroke-width="1.2870000000000001" />
<line x1="197.7" y1="599.5" x2="198.8" y2="622.3" stroke="#383838" stroke-width="1.2870000000000001" />
<line x1="174" y1="597" x2="204.3" y2="614.4" stroke="#383838" stroke-width="1.2870000000000001" />
<polygon points="190.2,604 197.5,601.5 197.5,622.3 190.2,618.7" fill="#555" stroke="#333" stroke-width="0.6" stroke-linejoin="round" />
<line x1="205" y1="584" x2="205.5" y2="626" stroke="#aaa" stroke-width="2.0" />
<polygon points="207.3,585.7 237.9,602.8 237.9,620.5 207.3,603.4" fill="#474747" stroke="#3a3a3a" stroke-width="0.7" stroke-linejoin="round" />
<polygon points="208,605.2 238.5,622.3 238.5,646.8 208,628.4" fill="#fff" stroke="#383838" stroke-width="1.4300000000000002" stroke-linejoin="round" />
<line x1="214.1" y1="608.6" x2="214.1" y2="632.1" stroke="#383838" stroke-width="1.2870000000000001" />
<line x1="220.2" y1="612" x2="220.2" y2="635.8" stroke="#383838" stroke-width="1.2870000000000001" />
<line x1="226.3" y1="615.5" x2="226.3" y2="639.4" stroke="#383838" stroke-width="1.2870000000000001" />
<line x1="232.4" y1="618.9" x2="232.4" y2="643.1" stroke="#383838" stroke-width="1.2870000000000001" />
<line x1="208" y1="616.8" x2="238.5" y2="634.5" stroke="#383838" stroke-width="1.2870000000000001" />
<polygon points="224.4,623.5 231.8,619.9 231.8,643.1 224.4,646.2" fill="#555" stroke="#333" stroke-width="0.6" stroke-linejoin="round" />
<polygon points="153.6,597.3 177.4,611.3 177.4,634.5 153.6,620.5" fill="#fff" stroke="#555" stroke-width="0.8" stroke-linejoin="round" />
<line x1="177.4" y1="611.3" x2="177.4" y2="634.5" stroke="#aaa" stroke-width="1.6" />
<polygon points="187.8,618.7 211.6,632.1 211.6,654.1 187.8,640.7" fill="#fff" stroke="#555" stroke-width="0.8" stroke-linejoin="round" />
<line x1="211.6" y1="632.1" x2="211.6" y2="654.1" stroke="#aaa" stroke-width="1.6" />
<polygon points="573.7,526.7 609.8,512.3 609.8,521.7 573.7,541.9" fill="#474747" stroke="#3a3a3a" stroke-width="0.7" stroke-linejoin="round" />
<polygon points="514.5,555.6 534.7,544.8 534.7,567.9 514.5,579.4" fill="#b4b4b4" stroke="#666" stroke-width="0.7" stroke-linejoin="round" />
<line x1="514.5" y1="555.6" x2="514.5" y2="579.4" stroke="#555" stroke-width="1.3" />
<polygon points="534.7,544 570.8,528.9 570.8,543.3 534.7,563.5" fill="#474747" stroke="#3a3a3a" stroke-width="0.7" stroke-linejoin="round" />
<polygon points="534,566.4 569.4,547.5 570.1,569.3 534,590.3" fill="#fff" stroke="#383838" stroke-width="1.4300000000000002" stroke-linejoin="round" />
<line x1="541.1" y1="562.6" x2="541.2" y2="586.1" stroke="#383838" stroke-width="1.2870000000000001" />
<line x1="548.2" y1="558.8" x2="548.4" y2="581.9" stroke="#383838" stroke-width="1.2870000000000001" />
<line x1="555.2" y1="555.1" x2="555.7" y2="577.7" stroke="#383838" stroke-width="1.2870000000000001" />
<line x1="562.3" y1="551.3" x2="562.9" y2="573.5" stroke="#383838" stroke-width="1.2870000000000001" />
<line x1="534" y1="578.3" x2="569.8" y2="558.4" stroke="#383838" stroke-width="1.2870000000000001" />
<line x1="569.5" y1="546" x2="570.2" y2="569.3" stroke="#555" stroke-width="1.2" />
<line x1="567.5" y1="547" x2="568" y2="570" stroke="#aaa" stroke-width="1.2" />
<polygon points="554.2,580.1 590.3,558.5 590.3,582.3 554.2,601.8" fill="#fff" stroke="#555" stroke-width="0.8" stroke-linejoin="round" />
<line x1="435" y1="97.8" x2="833.5" y2="97.8" stroke="#6a6a6a" stroke-width="0.9" />
<line x1="470.5" y1="209.4" x2="833.5" y2="209.4" stroke="#6a6a6a" stroke-width="0.9" />
<line x1="451.7" y1="456.4" x2="833.5" y2="456.4" stroke="#6a6a6a" stroke-width="0.9" />
<line x1="609.8" y1="522.8" x2="833.5" y2="522.8" stroke="#6a6a6a" stroke-width="0.9" />
<line x1="451.6" y1="727" x2="833.5" y2="727" stroke="#6a6a6a" stroke-width="0.9" />
<line x1="515" y1="838.2" x2="833.5" y2="838.2" stroke="#6a6a6a" stroke-width="0.9" />
<text x="738.1" y="94.7" textLength="95.4" lengthAdjust="spacingAndGlyphs" font-family="Liberation Sans, sans-serif" font-size="12.8" fill="#3a3a3a">Cubierta de zinc</text>
<text x="711.5" y="205.9" textLength="122" lengthAdjust="spacingAndGlyphs" font-family="Liberation Sans, sans-serif" font-size="12.8" fill="#3a3a3a">Estructura de bambú</text>
<text x="720.2" y="452.4" textLength="113.3" lengthAdjust="spacingAndGlyphs" font-family="Liberation Sans, sans-serif" font-size="12.8" fill="#3a3a3a">Paredes de madera</text>
<text x="739.7" y="519" textLength="93.8" lengthAdjust="spacingAndGlyphs" font-family="Liberation Sans, sans-serif" font-size="12.8" fill="#3a3a3a">Tiras de madera</text>
<text x="712.2" y="722.6" textLength="121.3" lengthAdjust="spacingAndGlyphs" font-family="Liberation Sans, sans-serif" font-size="12.8" fill="#3a3a3a">Estuctura de madera</text>
<text x="716.5" y="834.4" textLength="117" lengthAdjust="spacingAndGlyphs" font-family="Liberation Sans, sans-serif" font-size="12.8" fill="#3a3a3a">Dados de hormigón</text>
</svg></body></html>
